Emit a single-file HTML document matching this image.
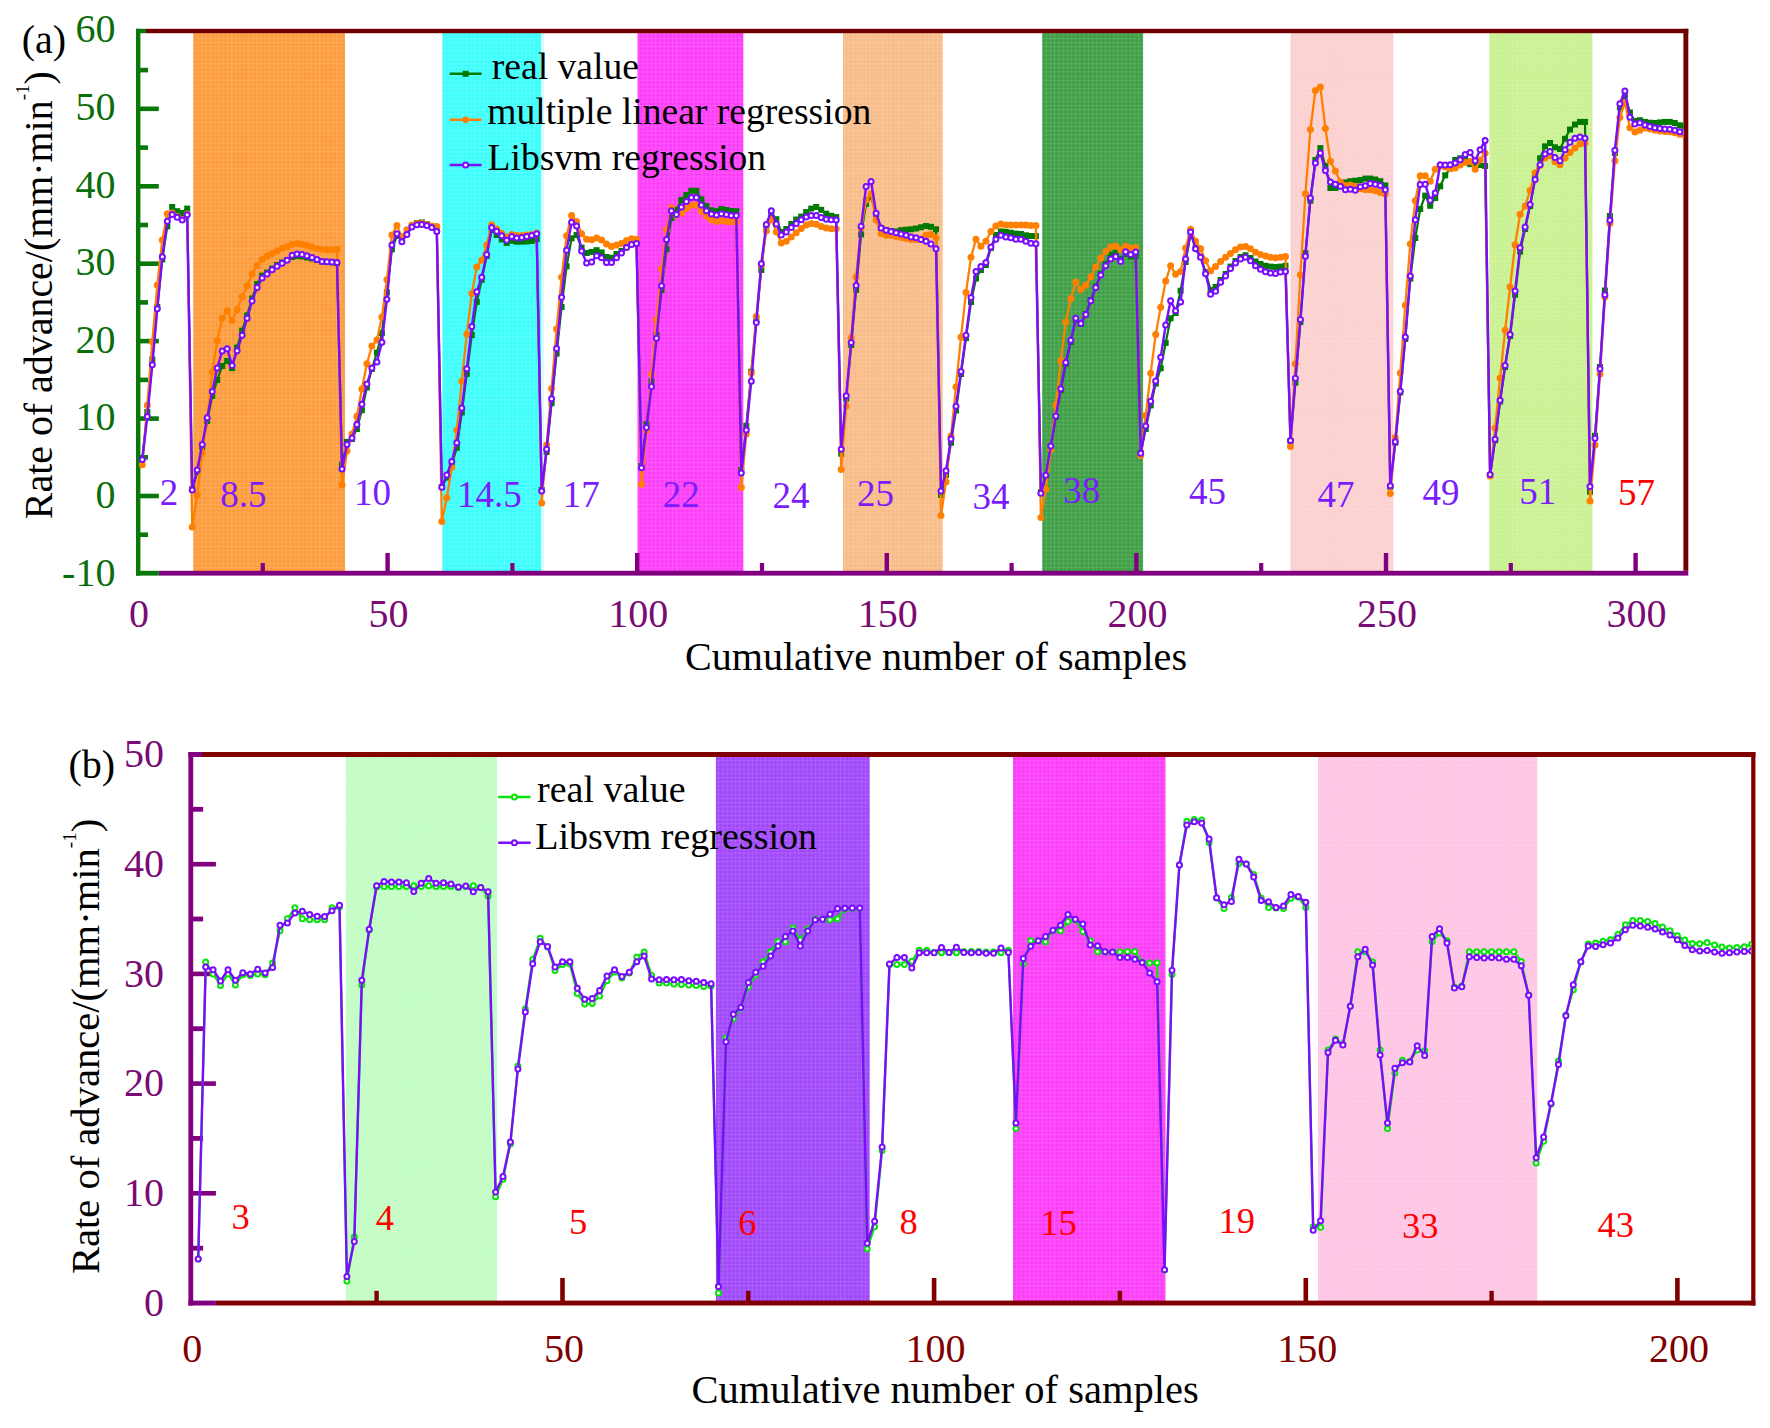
<!DOCTYPE html>
<html lang="en"><head><meta charset="utf-8"><title>Rate of advance regression</title>
<style>html,body{margin:0;padding:0;background:#fff}svg{display:block}text{font-family:"Liberation Serif",serif}</style></head><body>
<svg width="1770" height="1428" viewBox="0 0 1770 1428">
<rect x="0" y="0" width="1770" height="1428" fill="#ffffff"/>
<defs><clipPath id="clipa"><rect x="136" y="28" width="1547.4" height="548"/></clipPath><clipPath id="clipb"><rect x="188" y="752" width="1563.2" height="554"/></clipPath><pattern id="mesh" width="4.2" height="4.2" patternUnits="userSpaceOnUse"><rect width="4.2" height="1.1" fill="#fff" opacity=".11"/><rect width="1.1" height="4.2" fill="#fff" opacity=".11"/></pattern></defs>
<g id="bands-a">
<rect x="193.2" y="32" width="151.8" height="540" fill="#FC9C3D"/>
<rect x="193.2" y="32" width="151.8" height="540" fill="url(#mesh)"/>
<rect x="442.4" y="32" width="98.9" height="540" fill="#3DFEFC"/>
<rect x="442.4" y="32" width="98.9" height="540" fill="url(#mesh)"/>
<rect x="637.5" y="32" width="105.8" height="540" fill="#FC3DF8"/>
<rect x="637.5" y="32" width="105.8" height="540" fill="url(#mesh)"/>
<rect x="843" y="32" width="99.7" height="540" fill="#F8BC89"/>
<rect x="843" y="32" width="99.7" height="540" fill="url(#mesh)"/>
<rect x="1042.2" y="32" width="100.9" height="540" fill="#3F9F45"/>
<rect x="1042.2" y="32" width="100.9" height="540" fill="url(#mesh)"/>
<rect x="1290.5" y="32" width="102.7" height="540" fill="#FBD0CF"/>
<rect x="1290.5" y="32" width="102.7" height="540" fill="url(#mesh)"/>
<rect x="1489.4" y="32" width="103.0" height="540" fill="#CAF191"/>
<rect x="1489.4" y="32" width="103.0" height="540" fill="url(#mesh)"/>
<rect x="542.6" y="32" width="1" height="540" fill="#b8fbfb"/>
</g>
<g id="axes-a">
<rect x="146" y="28.8" width="1542.3" height="4.4" fill="#6E0000"/>
<rect x="1683.4" y="28.8" width="4.9" height="542" fill="#6E0000"/>
<rect x="158.8" y="570.8" width="1529.5" height="4.8" fill="#800080"/>
<rect x="260.7" y="563" width="4.2" height="9" fill="#800080"/>
<rect x="385.4" y="553" width="4.4" height="19" fill="#800080"/>
<rect x="510.3" y="563" width="4.2" height="9" fill="#800080"/>
<rect x="635" y="553" width="4.4" height="19" fill="#800080"/>
<rect x="759.9" y="563" width="4.2" height="9" fill="#800080"/>
<rect x="884.6" y="553" width="4.4" height="19" fill="#800080"/>
<rect x="1009.5" y="563" width="4.2" height="9" fill="#800080"/>
<rect x="1134.2" y="553" width="4.4" height="19" fill="#800080"/>
<rect x="1259.1" y="563" width="4.2" height="9" fill="#800080"/>
<rect x="1383.8" y="553" width="4.4" height="19" fill="#800080"/>
<rect x="1508.7" y="563" width="4.2" height="9" fill="#800080"/>
<rect x="1633.4" y="553" width="4.4" height="19" fill="#800080"/>
<rect x="136" y="28.8" width="4.4" height="546.8" fill="#087808"/>
<rect x="136" y="28.8" width="10" height="4.4" fill="#087808"/>
<rect x="136" y="570.8" width="22.8" height="4.8" fill="#087808"/>
<rect x="138" y="532.4" width="10" height="4.6" fill="#087808"/>
<rect x="138" y="493.7" width="20.8" height="4.6" fill="#087808"/>
<rect x="138" y="455" width="10" height="4.6" fill="#087808"/>
<rect x="138" y="416.3" width="20.8" height="4.6" fill="#087808"/>
<rect x="138" y="377.6" width="10" height="4.6" fill="#087808"/>
<rect x="138" y="338.8" width="20.8" height="4.6" fill="#087808"/>
<rect x="138" y="300.1" width="10" height="4.6" fill="#087808"/>
<rect x="138" y="261.4" width="20.8" height="4.6" fill="#087808"/>
<rect x="138" y="222.7" width="10" height="4.6" fill="#087808"/>
<rect x="138" y="184" width="20.8" height="4.6" fill="#087808"/>
<rect x="138" y="145.3" width="10" height="4.6" fill="#087808"/>
<rect x="138" y="106.5" width="20.8" height="4.6" fill="#087808"/>
<rect x="138" y="67.8" width="10" height="4.6" fill="#087808"/>
</g>
<g id="labels-a" font-size="40">
<text x="115.4" y="585.6" text-anchor="end" fill="#0A6E0A">-10</text>
<text x="115.4" y="508" text-anchor="end" fill="#0A6E0A">0</text>
<text x="115.4" y="430.4" text-anchor="end" fill="#0A6E0A">10</text>
<text x="115.4" y="352.8" text-anchor="end" fill="#0A6E0A">20</text>
<text x="115.4" y="275.2" text-anchor="end" fill="#0A6E0A">30</text>
<text x="115.4" y="197.6" text-anchor="end" fill="#0A6E0A">40</text>
<text x="115.4" y="120" text-anchor="end" fill="#0A6E0A">50</text>
<text x="115.4" y="42.4" text-anchor="end" fill="#0A6E0A">60</text>
<text x="139" y="626.5" text-anchor="middle" fill="#7A0A74">0</text>
<text x="388.6" y="626.5" text-anchor="middle" fill="#7A0A74">50</text>
<text x="638.2" y="626.5" text-anchor="middle" fill="#7A0A74">100</text>
<text x="887.8" y="626.5" text-anchor="middle" fill="#7A0A74">150</text>
<text x="1137.4" y="626.5" text-anchor="middle" fill="#7A0A74">200</text>
<text x="1387" y="626.5" text-anchor="middle" fill="#7A0A74">250</text>
<text x="1636.6" y="626.5" text-anchor="middle" fill="#7A0A74">300</text>
<text x="685" y="670" fill="#000" font-size="40.1">Cumulative number of samples</text>
<text x="21.7" y="52.6" fill="#000">(a)</text>
<text transform="translate(52,519.2) rotate(-90)" fill="#000" font-size="39.92">Rate of advance/(mm·min<tspan font-size="19" dy="-23">-1</tspan><tspan dy="23">)</tspan></text>
</g>
<g id="data-a" clip-path="url(#clipa)">
<polyline points="142.3,458 147.3,412 152.3,359.5 157.3,307 162.3,259.5 167.3,226.4 172.2,207 177.2,211.2 182.2,213 187.2,208.6 192.2,489 197.2,472 202.2,447 207.2,421 212.2,396 217.2,380 222.2,366 227.2,361 232.1,368 237.1,347.6 242.1,330.7 247.1,315.4 252.1,298.5 257.1,284 262.1,275.6 267.1,272.5 272.1,268.5 277.1,265 282.1,262.5 287.1,260 292.1,257 297,256 302,256.4 307,257.5 312,258.5 317,260 322,261.5 327,262 332,262.3 337,263 342,464.7 347,441.9 352,439 356.9,429 361.9,410.2 366.9,387.5 371.9,369 376.9,352.7 381.9,333 386.9,292.5 391.9,249.3 396.9,236 401.9,240 406.9,234 411.9,226 416.9,223 421.8,222.5 426.8,224 431.8,226.5 436.8,230.5 441.8,487 446.8,477.5 451.8,465 456.8,447.8 461.8,412.5 466.8,373.9 471.8,335 476.8,301.9 481.7,279.8 486.7,256 491.7,230 496.7,235 501.7,239.5 506.7,242.9 511.7,240.8 516.7,241.7 521.7,241.7 526.7,241.5 531.7,241 536.7,239.2 541.7,490 546.6,452 551.6,403.2 556.6,353.6 561.6,307 566.6,266.3 571.6,238.3 576.6,235 581.6,247.6 586.6,253 591.6,251.9 596.6,250.2 601.6,252.4 606.5,257 611.5,257.8 616.5,254 621.5,251 626.5,246.5 631.5,244 636.5,243 641.5,466 646.5,424.3 651.5,381.5 656.5,335 661.5,290 666.5,249.3 671.4,218 676.4,210 681.4,200 686.4,195 691.4,190.8 696.4,190.8 701.4,199.3 706.4,206 711.4,210.3 716.4,211.2 721.4,209 726.4,210 731.3,211 736.3,211.2 741.3,470 746.3,425.8 751.3,371.7 756.3,320 761.3,270 766.3,226 771.3,213 776.3,219.2 781.3,232 786.3,229 791.3,224 796.2,219.5 801.2,216.6 806.2,212 811.2,208.6 816.2,207 821.2,209.8 826.2,213.7 831.2,215.8 836.2,217.1 841.2,453.7 846.2,398.6 851.2,345 856.1,290 861.1,234.4 866.1,203.9 871.1,197 876.1,214 881.1,228 886.1,230 891.1,231 896.1,231.5 901.1,230.2 906.1,229.7 911.1,229.3 916.1,228.5 921,227.3 926,226 931,226.8 936,229.3 941,495 946,475 951,442.7 956,410.5 961,374 966,338 971,302 976,278.5 980.9,270 985.9,265 990.9,248 995.9,235 1000.9,231.4 1005.9,231.9 1010.9,232.7 1015.9,233.6 1020.9,234 1025.9,235.3 1030.9,236 1035.9,236.1 1040.9,492 1045.8,476 1050.8,447 1055.8,417 1060.8,390 1065.8,364 1070.8,342 1075.8,320 1080.8,324 1085.8,314 1090.8,300 1095.8,286.5 1100.8,274 1105.7,264 1110.7,255 1115.7,253 1120.7,259 1125.7,254 1130.7,256.4 1135.7,256 1140.7,453 1145.7,429 1150.7,405.4 1155.7,383.6 1160.7,368.3 1165.7,342.9 1170.6,318.3 1175.6,313 1180.6,290.7 1185.6,262 1190.6,234 1195.6,248 1200.6,256.5 1205.6,272 1210.6,290 1215.6,287 1220.6,280 1225.6,274 1230.5,266.6 1235.5,261 1240.5,257 1245.5,255.3 1250.5,258 1255.5,261.5 1260.5,264 1265.5,265.8 1270.5,266.6 1275.5,267 1280.5,266.6 1285.5,265.8 1290.5,441 1295.4,382.7 1300.4,322 1305.4,253.2 1310.4,200.7 1315.4,160 1320.4,148.1 1325.4,166 1330.4,188 1335.4,188 1340.4,186.3 1345.4,182.4 1350.4,181.2 1355.3,180.7 1360.3,180 1365.3,178.6 1370.3,178.6 1375.3,179.5 1380.3,181.2 1385.3,185.4 1390.3,486.8 1395.3,442.7 1400.3,392.5 1405.3,339 1410.3,278.6 1415.3,238 1420.2,209 1425.2,195.6 1430.2,205.8 1435.2,198 1440.2,186.3 1445.2,175.3 1450.2,168.5 1455.2,160 1460.2,158.3 1465.2,160 1470.2,164.2 1475.2,165 1480.1,165 1485.1,166 1490.1,475.4 1495.1,440.2 1500.1,401.5 1505.1,367 1510.1,336 1515.1,294.7 1520.1,251.5 1525.1,229 1530.1,206 1535.1,178 1540.1,158.3 1545,146.4 1550,143 1555,147.3 1560,149 1565,138.8 1570,129.5 1575,124.5 1580,121.9 1585,121.9 1590,491.7 1595,435.8 1600,367 1604.9,290.5 1609.9,216 1614.9,153 1619.9,107.5 1624.9,95 1629.9,112.5 1634.9,121 1639.9,120.2 1644.9,121.9 1649.9,122.7 1654.9,123 1659.9,122.4 1664.9,121.9 1669.8,121.9 1674.8,123 1679.8,125.3 1684.8,126.5" fill="none" stroke="#007A00" stroke-width="2.2" stroke-linejoin="round"/>
<g fill="#007A00">
<rect x="139.3" y="455" width="6" height="6"/>
<rect x="144.3" y="409" width="6" height="6"/>
<rect x="149.3" y="356.5" width="6" height="6"/>
<rect x="154.3" y="304" width="6" height="6"/>
<rect x="159.3" y="256.5" width="6" height="6"/>
<rect x="164.3" y="223.4" width="6" height="6"/>
<rect x="169.2" y="204" width="6" height="6"/>
<rect x="174.2" y="208.2" width="6" height="6"/>
<rect x="179.2" y="210" width="6" height="6"/>
<rect x="184.2" y="205.6" width="6" height="6"/>
<rect x="189.2" y="486" width="6" height="6"/>
<rect x="194.2" y="469" width="6" height="6"/>
<rect x="199.2" y="444" width="6" height="6"/>
<rect x="204.2" y="418" width="6" height="6"/>
<rect x="209.2" y="393" width="6" height="6"/>
<rect x="214.2" y="377" width="6" height="6"/>
<rect x="219.2" y="363" width="6" height="6"/>
<rect x="224.2" y="358" width="6" height="6"/>
<rect x="229.1" y="365" width="6" height="6"/>
<rect x="234.1" y="344.6" width="6" height="6"/>
<rect x="239.1" y="327.7" width="6" height="6"/>
<rect x="244.1" y="312.4" width="6" height="6"/>
<rect x="249.1" y="295.5" width="6" height="6"/>
<rect x="254.1" y="281" width="6" height="6"/>
<rect x="259.1" y="272.6" width="6" height="6"/>
<rect x="264.1" y="269.5" width="6" height="6"/>
<rect x="269.1" y="265.5" width="6" height="6"/>
<rect x="274.1" y="262" width="6" height="6"/>
<rect x="279.1" y="259.5" width="6" height="6"/>
<rect x="284.1" y="257" width="6" height="6"/>
<rect x="289.1" y="254" width="6" height="6"/>
<rect x="294" y="253" width="6" height="6"/>
<rect x="299" y="253.4" width="6" height="6"/>
<rect x="304" y="254.5" width="6" height="6"/>
<rect x="309" y="255.5" width="6" height="6"/>
<rect x="314" y="257" width="6" height="6"/>
<rect x="319" y="258.5" width="6" height="6"/>
<rect x="324" y="259" width="6" height="6"/>
<rect x="329" y="259.3" width="6" height="6"/>
<rect x="334" y="260" width="6" height="6"/>
<rect x="339" y="461.7" width="6" height="6"/>
<rect x="344" y="438.9" width="6" height="6"/>
<rect x="349" y="436" width="6" height="6"/>
<rect x="353.9" y="426" width="6" height="6"/>
<rect x="358.9" y="407.2" width="6" height="6"/>
<rect x="363.9" y="384.5" width="6" height="6"/>
<rect x="368.9" y="366" width="6" height="6"/>
<rect x="373.9" y="349.7" width="6" height="6"/>
<rect x="378.9" y="330" width="6" height="6"/>
<rect x="383.9" y="289.5" width="6" height="6"/>
<rect x="388.9" y="246.3" width="6" height="6"/>
<rect x="393.9" y="233" width="6" height="6"/>
<rect x="398.9" y="237" width="6" height="6"/>
<rect x="403.9" y="231" width="6" height="6"/>
<rect x="408.9" y="223" width="6" height="6"/>
<rect x="413.9" y="220" width="6" height="6"/>
<rect x="418.8" y="219.5" width="6" height="6"/>
<rect x="423.8" y="221" width="6" height="6"/>
<rect x="428.8" y="223.5" width="6" height="6"/>
<rect x="433.8" y="227.5" width="6" height="6"/>
<rect x="438.8" y="484" width="6" height="6"/>
<rect x="443.8" y="474.5" width="6" height="6"/>
<rect x="448.8" y="462" width="6" height="6"/>
<rect x="453.8" y="444.8" width="6" height="6"/>
<rect x="458.8" y="409.5" width="6" height="6"/>
<rect x="463.8" y="370.9" width="6" height="6"/>
<rect x="468.8" y="332" width="6" height="6"/>
<rect x="473.8" y="298.9" width="6" height="6"/>
<rect x="478.7" y="276.8" width="6" height="6"/>
<rect x="483.7" y="253" width="6" height="6"/>
<rect x="488.7" y="227" width="6" height="6"/>
<rect x="493.7" y="232" width="6" height="6"/>
<rect x="498.7" y="236.5" width="6" height="6"/>
<rect x="503.7" y="239.9" width="6" height="6"/>
<rect x="508.7" y="237.8" width="6" height="6"/>
<rect x="513.7" y="238.7" width="6" height="6"/>
<rect x="518.7" y="238.7" width="6" height="6"/>
<rect x="523.7" y="238.5" width="6" height="6"/>
<rect x="528.7" y="238" width="6" height="6"/>
<rect x="533.7" y="236.2" width="6" height="6"/>
<rect x="538.7" y="487" width="6" height="6"/>
<rect x="543.6" y="449" width="6" height="6"/>
<rect x="548.6" y="400.2" width="6" height="6"/>
<rect x="553.6" y="350.6" width="6" height="6"/>
<rect x="558.6" y="304" width="6" height="6"/>
<rect x="563.6" y="263.3" width="6" height="6"/>
<rect x="568.6" y="235.3" width="6" height="6"/>
<rect x="573.6" y="232" width="6" height="6"/>
<rect x="578.6" y="244.6" width="6" height="6"/>
<rect x="583.6" y="250" width="6" height="6"/>
<rect x="588.6" y="248.9" width="6" height="6"/>
<rect x="593.6" y="247.2" width="6" height="6"/>
<rect x="598.6" y="249.4" width="6" height="6"/>
<rect x="603.5" y="254" width="6" height="6"/>
<rect x="608.5" y="254.8" width="6" height="6"/>
<rect x="613.5" y="251" width="6" height="6"/>
<rect x="618.5" y="248" width="6" height="6"/>
<rect x="623.5" y="243.5" width="6" height="6"/>
<rect x="628.5" y="241" width="6" height="6"/>
<rect x="633.5" y="240" width="6" height="6"/>
<rect x="638.5" y="463" width="6" height="6"/>
<rect x="643.5" y="421.3" width="6" height="6"/>
<rect x="648.5" y="378.5" width="6" height="6"/>
<rect x="653.5" y="332" width="6" height="6"/>
<rect x="658.5" y="287" width="6" height="6"/>
<rect x="663.5" y="246.3" width="6" height="6"/>
<rect x="668.4" y="215" width="6" height="6"/>
<rect x="673.4" y="207" width="6" height="6"/>
<rect x="678.4" y="197" width="6" height="6"/>
<rect x="683.4" y="192" width="6" height="6"/>
<rect x="688.4" y="187.8" width="6" height="6"/>
<rect x="693.4" y="187.8" width="6" height="6"/>
<rect x="698.4" y="196.3" width="6" height="6"/>
<rect x="703.4" y="203" width="6" height="6"/>
<rect x="708.4" y="207.3" width="6" height="6"/>
<rect x="713.4" y="208.2" width="6" height="6"/>
<rect x="718.4" y="206" width="6" height="6"/>
<rect x="723.4" y="207" width="6" height="6"/>
<rect x="728.3" y="208" width="6" height="6"/>
<rect x="733.3" y="208.2" width="6" height="6"/>
<rect x="738.3" y="467" width="6" height="6"/>
<rect x="743.3" y="422.8" width="6" height="6"/>
<rect x="748.3" y="368.7" width="6" height="6"/>
<rect x="753.3" y="317" width="6" height="6"/>
<rect x="758.3" y="267" width="6" height="6"/>
<rect x="763.3" y="223" width="6" height="6"/>
<rect x="768.3" y="210" width="6" height="6"/>
<rect x="773.3" y="216.2" width="6" height="6"/>
<rect x="778.3" y="229" width="6" height="6"/>
<rect x="783.3" y="226" width="6" height="6"/>
<rect x="788.3" y="221" width="6" height="6"/>
<rect x="793.2" y="216.5" width="6" height="6"/>
<rect x="798.2" y="213.6" width="6" height="6"/>
<rect x="803.2" y="209" width="6" height="6"/>
<rect x="808.2" y="205.6" width="6" height="6"/>
<rect x="813.2" y="204" width="6" height="6"/>
<rect x="818.2" y="206.8" width="6" height="6"/>
<rect x="823.2" y="210.7" width="6" height="6"/>
<rect x="828.2" y="212.8" width="6" height="6"/>
<rect x="833.2" y="214.1" width="6" height="6"/>
<rect x="838.2" y="450.7" width="6" height="6"/>
<rect x="843.2" y="395.6" width="6" height="6"/>
<rect x="848.2" y="342" width="6" height="6"/>
<rect x="853.1" y="287" width="6" height="6"/>
<rect x="858.1" y="231.4" width="6" height="6"/>
<rect x="863.1" y="200.9" width="6" height="6"/>
<rect x="868.1" y="194" width="6" height="6"/>
<rect x="873.1" y="211" width="6" height="6"/>
<rect x="878.1" y="225" width="6" height="6"/>
<rect x="883.1" y="227" width="6" height="6"/>
<rect x="888.1" y="228" width="6" height="6"/>
<rect x="893.1" y="228.5" width="6" height="6"/>
<rect x="898.1" y="227.2" width="6" height="6"/>
<rect x="903.1" y="226.7" width="6" height="6"/>
<rect x="908.1" y="226.3" width="6" height="6"/>
<rect x="913.1" y="225.5" width="6" height="6"/>
<rect x="918" y="224.3" width="6" height="6"/>
<rect x="923" y="223" width="6" height="6"/>
<rect x="928" y="223.8" width="6" height="6"/>
<rect x="933" y="226.3" width="6" height="6"/>
<rect x="938" y="492" width="6" height="6"/>
<rect x="943" y="472" width="6" height="6"/>
<rect x="948" y="439.7" width="6" height="6"/>
<rect x="953" y="407.5" width="6" height="6"/>
<rect x="958" y="371" width="6" height="6"/>
<rect x="963" y="335" width="6" height="6"/>
<rect x="968" y="299" width="6" height="6"/>
<rect x="973" y="275.5" width="6" height="6"/>
<rect x="977.9" y="267" width="6" height="6"/>
<rect x="982.9" y="262" width="6" height="6"/>
<rect x="987.9" y="245" width="6" height="6"/>
<rect x="992.9" y="232" width="6" height="6"/>
<rect x="997.9" y="228.4" width="6" height="6"/>
<rect x="1002.9" y="228.9" width="6" height="6"/>
<rect x="1007.9" y="229.7" width="6" height="6"/>
<rect x="1012.9" y="230.6" width="6" height="6"/>
<rect x="1017.9" y="231" width="6" height="6"/>
<rect x="1022.9" y="232.3" width="6" height="6"/>
<rect x="1027.9" y="233" width="6" height="6"/>
<rect x="1032.9" y="233.1" width="6" height="6"/>
<rect x="1037.9" y="489" width="6" height="6"/>
<rect x="1042.8" y="473" width="6" height="6"/>
<rect x="1047.8" y="444" width="6" height="6"/>
<rect x="1052.8" y="414" width="6" height="6"/>
<rect x="1057.8" y="387" width="6" height="6"/>
<rect x="1062.8" y="361" width="6" height="6"/>
<rect x="1067.8" y="339" width="6" height="6"/>
<rect x="1072.8" y="317" width="6" height="6"/>
<rect x="1077.8" y="321" width="6" height="6"/>
<rect x="1082.8" y="311" width="6" height="6"/>
<rect x="1087.8" y="297" width="6" height="6"/>
<rect x="1092.8" y="283.5" width="6" height="6"/>
<rect x="1097.8" y="271" width="6" height="6"/>
<rect x="1102.7" y="261" width="6" height="6"/>
<rect x="1107.7" y="252" width="6" height="6"/>
<rect x="1112.7" y="250" width="6" height="6"/>
<rect x="1117.7" y="256" width="6" height="6"/>
<rect x="1122.7" y="251" width="6" height="6"/>
<rect x="1127.7" y="253.4" width="6" height="6"/>
<rect x="1132.7" y="253" width="6" height="6"/>
<rect x="1137.7" y="450" width="6" height="6"/>
<rect x="1142.7" y="426" width="6" height="6"/>
<rect x="1147.7" y="402.4" width="6" height="6"/>
<rect x="1152.7" y="380.6" width="6" height="6"/>
<rect x="1157.7" y="365.3" width="6" height="6"/>
<rect x="1162.7" y="339.9" width="6" height="6"/>
<rect x="1167.6" y="315.3" width="6" height="6"/>
<rect x="1172.6" y="310" width="6" height="6"/>
<rect x="1177.6" y="287.7" width="6" height="6"/>
<rect x="1182.6" y="259" width="6" height="6"/>
<rect x="1187.6" y="231" width="6" height="6"/>
<rect x="1192.6" y="245" width="6" height="6"/>
<rect x="1197.6" y="253.5" width="6" height="6"/>
<rect x="1202.6" y="269" width="6" height="6"/>
<rect x="1207.6" y="287" width="6" height="6"/>
<rect x="1212.6" y="284" width="6" height="6"/>
<rect x="1217.6" y="277" width="6" height="6"/>
<rect x="1222.6" y="271" width="6" height="6"/>
<rect x="1227.5" y="263.6" width="6" height="6"/>
<rect x="1232.5" y="258" width="6" height="6"/>
<rect x="1237.5" y="254" width="6" height="6"/>
<rect x="1242.5" y="252.3" width="6" height="6"/>
<rect x="1247.5" y="255" width="6" height="6"/>
<rect x="1252.5" y="258.5" width="6" height="6"/>
<rect x="1257.5" y="261" width="6" height="6"/>
<rect x="1262.5" y="262.8" width="6" height="6"/>
<rect x="1267.5" y="263.6" width="6" height="6"/>
<rect x="1272.5" y="264" width="6" height="6"/>
<rect x="1277.5" y="263.6" width="6" height="6"/>
<rect x="1282.5" y="262.8" width="6" height="6"/>
<rect x="1287.5" y="438" width="6" height="6"/>
<rect x="1292.4" y="379.7" width="6" height="6"/>
<rect x="1297.4" y="319" width="6" height="6"/>
<rect x="1302.4" y="250.2" width="6" height="6"/>
<rect x="1307.4" y="197.7" width="6" height="6"/>
<rect x="1312.4" y="157" width="6" height="6"/>
<rect x="1317.4" y="145.1" width="6" height="6"/>
<rect x="1322.4" y="163" width="6" height="6"/>
<rect x="1327.4" y="185" width="6" height="6"/>
<rect x="1332.4" y="185" width="6" height="6"/>
<rect x="1337.4" y="183.3" width="6" height="6"/>
<rect x="1342.4" y="179.4" width="6" height="6"/>
<rect x="1347.4" y="178.2" width="6" height="6"/>
<rect x="1352.3" y="177.7" width="6" height="6"/>
<rect x="1357.3" y="177" width="6" height="6"/>
<rect x="1362.3" y="175.6" width="6" height="6"/>
<rect x="1367.3" y="175.6" width="6" height="6"/>
<rect x="1372.3" y="176.5" width="6" height="6"/>
<rect x="1377.3" y="178.2" width="6" height="6"/>
<rect x="1382.3" y="182.4" width="6" height="6"/>
<rect x="1387.3" y="483.8" width="6" height="6"/>
<rect x="1392.3" y="439.7" width="6" height="6"/>
<rect x="1397.3" y="389.5" width="6" height="6"/>
<rect x="1402.3" y="336" width="6" height="6"/>
<rect x="1407.3" y="275.6" width="6" height="6"/>
<rect x="1412.3" y="235" width="6" height="6"/>
<rect x="1417.2" y="206" width="6" height="6"/>
<rect x="1422.2" y="192.6" width="6" height="6"/>
<rect x="1427.2" y="202.8" width="6" height="6"/>
<rect x="1432.2" y="195" width="6" height="6"/>
<rect x="1437.2" y="183.3" width="6" height="6"/>
<rect x="1442.2" y="172.3" width="6" height="6"/>
<rect x="1447.2" y="165.5" width="6" height="6"/>
<rect x="1452.2" y="157" width="6" height="6"/>
<rect x="1457.2" y="155.3" width="6" height="6"/>
<rect x="1462.2" y="157" width="6" height="6"/>
<rect x="1467.2" y="161.2" width="6" height="6"/>
<rect x="1472.2" y="162" width="6" height="6"/>
<rect x="1477.1" y="162" width="6" height="6"/>
<rect x="1482.1" y="163" width="6" height="6"/>
<rect x="1487.1" y="472.4" width="6" height="6"/>
<rect x="1492.1" y="437.2" width="6" height="6"/>
<rect x="1497.1" y="398.5" width="6" height="6"/>
<rect x="1502.1" y="364" width="6" height="6"/>
<rect x="1507.1" y="333" width="6" height="6"/>
<rect x="1512.1" y="291.7" width="6" height="6"/>
<rect x="1517.1" y="248.5" width="6" height="6"/>
<rect x="1522.1" y="226" width="6" height="6"/>
<rect x="1527.1" y="203" width="6" height="6"/>
<rect x="1532.1" y="175" width="6" height="6"/>
<rect x="1537.1" y="155.3" width="6" height="6"/>
<rect x="1542" y="143.4" width="6" height="6"/>
<rect x="1547" y="140" width="6" height="6"/>
<rect x="1552" y="144.3" width="6" height="6"/>
<rect x="1557" y="146" width="6" height="6"/>
<rect x="1562" y="135.8" width="6" height="6"/>
<rect x="1567" y="126.5" width="6" height="6"/>
<rect x="1572" y="121.5" width="6" height="6"/>
<rect x="1577" y="118.9" width="6" height="6"/>
<rect x="1582" y="118.9" width="6" height="6"/>
<rect x="1587" y="488.7" width="6" height="6"/>
<rect x="1592" y="432.8" width="6" height="6"/>
<rect x="1597" y="364" width="6" height="6"/>
<rect x="1601.9" y="287.5" width="6" height="6"/>
<rect x="1606.9" y="213" width="6" height="6"/>
<rect x="1611.9" y="150" width="6" height="6"/>
<rect x="1616.9" y="104.5" width="6" height="6"/>
<rect x="1621.9" y="92" width="6" height="6"/>
<rect x="1626.9" y="109.5" width="6" height="6"/>
<rect x="1631.9" y="118" width="6" height="6"/>
<rect x="1636.9" y="117.2" width="6" height="6"/>
<rect x="1641.9" y="118.9" width="6" height="6"/>
<rect x="1646.9" y="119.7" width="6" height="6"/>
<rect x="1651.9" y="120" width="6" height="6"/>
<rect x="1656.9" y="119.4" width="6" height="6"/>
<rect x="1661.9" y="118.9" width="6" height="6"/>
<rect x="1666.8" y="118.9" width="6" height="6"/>
<rect x="1671.8" y="120" width="6" height="6"/>
<rect x="1676.8" y="122.3" width="6" height="6"/>
<rect x="1681.8" y="123.5" width="6" height="6"/>
</g>
<polyline points="142.3,464.8 147.3,405.2 152.3,341.7 157.3,285 162.3,240 167.3,213.7 172.2,213 177.2,216.5 182.2,219.5 187.2,214 192.2,527 197.2,495 202.2,453.5 207.2,418 212.2,372.2 217.2,340.8 222.2,318.3 227.2,310.7 232.1,320.8 237.1,309.5 242.1,296.8 247.1,285.8 252.1,273.9 257.1,265.4 262.1,259.5 267.1,256.1 272.1,253.6 277.1,251 282.1,248.5 287.1,246.8 292.1,244.2 297,243.4 302,244.2 307,245.6 312,247.1 317,248.5 322,249.3 327,249.7 332,249.7 337,249.3 342,485 347,451 352,434 356.9,416.2 361.9,389 366.9,363.7 371.9,346 376.9,340 381.9,317 386.9,279.8 391.9,235 396.9,225.6 401.9,237 406.9,229.8 411.9,225 416.9,223.5 421.8,223.5 426.8,224.5 431.8,226 436.8,226.4 441.8,521.5 446.8,497.8 451.8,467.3 456.8,430 461.8,381.2 466.8,334 471.8,293.4 476.8,267.1 481.7,260.3 486.7,245.1 491.7,224.7 496.7,229 501.7,233.2 506.7,237 511.7,234.4 516.7,235.4 521.7,235.4 526.7,235 531.7,234.5 536.7,233 541.7,502.9 546.6,445 551.6,388.4 556.6,329 561.6,277.3 566.6,235.8 571.6,215.4 576.6,221.4 581.6,233.7 586.6,239.2 591.6,239.7 596.6,238 601.6,240 606.5,243.9 611.5,246.4 616.5,245.1 621.5,243.4 626.5,240.5 631.5,238.8 636.5,239.2 641.5,484.2 646.5,430.8 651.5,374 656.5,319.7 661.5,268.8 666.5,229.8 671.4,207.8 676.4,215.4 681.4,212.9 686.4,208.6 691.4,205.3 696.4,205 701.4,211.2 706.4,216.3 711.4,219.7 716.4,221.4 721.4,220.5 726.4,221.4 731.3,221.7 736.3,221.7 741.3,487.6 746.3,434 751.3,373 756.3,316.6 761.3,265 766.3,231 771.3,219.2 776.3,231.9 781.3,242.9 786.3,241.2 791.3,237 796.2,232.7 801.2,228.5 806.2,225.1 811.2,223.4 816.2,224.2 821.2,226.4 826.2,228.1 831.2,228.8 836.2,228.8 841.2,469.5 846.2,406 851.2,337.8 856.1,276.8 861.1,228 866.1,200 871.1,193.7 876.1,220 881.1,233.6 886.1,235.3 891.1,235.5 896.1,236.5 901.1,237.5 906.1,238.5 911.1,239.5 916.1,239.5 921,239 926,235.3 931,234.4 936,237.8 941,515.6 946,481.7 951,436 956,386.9 961,337 966,292.4 971,257.3 976,239.2 980.9,246.3 985.9,241.2 990.9,231.4 995.9,226 1000.9,223.9 1005.9,225.1 1010.9,225.1 1015.9,225.1 1020.9,225.1 1025.9,225.1 1030.9,225.4 1035.9,225.6 1040.9,517.6 1045.8,489.3 1050.8,449.5 1055.8,405 1060.8,360.7 1065.8,322 1070.8,298.8 1075.8,281.9 1080.8,289.5 1085.8,285.3 1090.8,276.8 1095.8,267 1100.8,258.1 1105.7,251.4 1110.7,247.1 1115.7,245.9 1120.7,249.7 1125.7,246.3 1130.7,248.3 1135.7,247.6 1140.7,455.4 1145.7,415.6 1150.7,373.2 1155.7,334.4 1160.7,307.3 1165.7,281 1170.6,265.8 1175.6,274.2 1180.6,271.4 1185.6,248 1190.6,229.3 1195.6,241.2 1200.6,248.8 1205.6,260.7 1210.6,270.8 1215.6,266.6 1220.6,261.5 1225.6,257.3 1230.5,253.4 1235.5,249.7 1240.5,247.1 1245.5,246.6 1250.5,248.8 1255.5,252.2 1260.5,254.4 1265.5,256.1 1270.5,257.3 1275.5,257.8 1280.5,257.3 1285.5,256.4 1290.5,446.6 1295.4,363.8 1300.4,274.8 1305.4,193.8 1310.4,129.5 1315.4,90.5 1320.4,87.1 1325.4,128.6 1330.4,161.2 1335.4,171 1340.4,182 1345.4,185.4 1350.4,185 1355.3,186.3 1360.3,188.8 1365.3,189.7 1370.3,189.7 1375.3,190.8 1380.3,192.5 1385.3,193.9 1390.3,493.4 1395.3,437.5 1400.3,373 1405.3,305.3 1410.3,243.9 1415.3,200.7 1420.2,175.8 1425.2,175.8 1430.2,181.2 1435.2,169.3 1440.2,166 1445.2,167 1450.2,168.5 1455.2,168 1460.2,165 1465.2,162.5 1470.2,161.4 1475.2,169.3 1480.1,160 1485.1,153.2 1490.1,476 1495.1,428 1500.1,378.1 1505.1,330.3 1510.1,287.1 1515.1,244.7 1520.1,214.2 1525.1,206.1 1530.1,190.5 1535.1,172.7 1540.1,165.5 1545,158 1550,155.8 1555,161.7 1560,164.7 1565,158 1570,152.4 1575,148.1 1580,143.9 1585,143 1590,501 1595,445 1600,373.9 1604.9,297 1609.9,223.6 1614.9,160.8 1619.9,117.6 1624.9,102.4 1629.9,127.8 1634.9,132 1639.9,130.3 1644.9,128 1649.9,129 1654.9,130.3 1659.9,131 1664.9,131.5 1669.8,131.7 1674.8,132.8 1679.8,134.2 1684.8,135.2" fill="none" stroke="#FF8000" stroke-width="2.3" stroke-linejoin="round"/>
<g fill="#FF8000">
<circle cx="142.3" cy="464.8" r="3.5"/>
<circle cx="147.3" cy="405.2" r="3.5"/>
<circle cx="152.3" cy="341.7" r="3.5"/>
<circle cx="157.3" cy="285" r="3.5"/>
<circle cx="162.3" cy="240" r="3.5"/>
<circle cx="167.3" cy="213.7" r="3.5"/>
<circle cx="172.2" cy="213" r="3.5"/>
<circle cx="177.2" cy="216.5" r="3.5"/>
<circle cx="182.2" cy="219.5" r="3.5"/>
<circle cx="187.2" cy="214" r="3.5"/>
<circle cx="192.2" cy="527" r="3.5"/>
<circle cx="197.2" cy="495" r="3.5"/>
<circle cx="202.2" cy="453.5" r="3.5"/>
<circle cx="207.2" cy="418" r="3.5"/>
<circle cx="212.2" cy="372.2" r="3.5"/>
<circle cx="217.2" cy="340.8" r="3.5"/>
<circle cx="222.2" cy="318.3" r="3.5"/>
<circle cx="227.2" cy="310.7" r="3.5"/>
<circle cx="232.1" cy="320.8" r="3.5"/>
<circle cx="237.1" cy="309.5" r="3.5"/>
<circle cx="242.1" cy="296.8" r="3.5"/>
<circle cx="247.1" cy="285.8" r="3.5"/>
<circle cx="252.1" cy="273.9" r="3.5"/>
<circle cx="257.1" cy="265.4" r="3.5"/>
<circle cx="262.1" cy="259.5" r="3.5"/>
<circle cx="267.1" cy="256.1" r="3.5"/>
<circle cx="272.1" cy="253.6" r="3.5"/>
<circle cx="277.1" cy="251" r="3.5"/>
<circle cx="282.1" cy="248.5" r="3.5"/>
<circle cx="287.1" cy="246.8" r="3.5"/>
<circle cx="292.1" cy="244.2" r="3.5"/>
<circle cx="297" cy="243.4" r="3.5"/>
<circle cx="302" cy="244.2" r="3.5"/>
<circle cx="307" cy="245.6" r="3.5"/>
<circle cx="312" cy="247.1" r="3.5"/>
<circle cx="317" cy="248.5" r="3.5"/>
<circle cx="322" cy="249.3" r="3.5"/>
<circle cx="327" cy="249.7" r="3.5"/>
<circle cx="332" cy="249.7" r="3.5"/>
<circle cx="337" cy="249.3" r="3.5"/>
<circle cx="342" cy="485" r="3.5"/>
<circle cx="347" cy="451" r="3.5"/>
<circle cx="352" cy="434" r="3.5"/>
<circle cx="356.9" cy="416.2" r="3.5"/>
<circle cx="361.9" cy="389" r="3.5"/>
<circle cx="366.9" cy="363.7" r="3.5"/>
<circle cx="371.9" cy="346" r="3.5"/>
<circle cx="376.9" cy="340" r="3.5"/>
<circle cx="381.9" cy="317" r="3.5"/>
<circle cx="386.9" cy="279.8" r="3.5"/>
<circle cx="391.9" cy="235" r="3.5"/>
<circle cx="396.9" cy="225.6" r="3.5"/>
<circle cx="401.9" cy="237" r="3.5"/>
<circle cx="406.9" cy="229.8" r="3.5"/>
<circle cx="411.9" cy="225" r="3.5"/>
<circle cx="416.9" cy="223.5" r="3.5"/>
<circle cx="421.8" cy="223.5" r="3.5"/>
<circle cx="426.8" cy="224.5" r="3.5"/>
<circle cx="431.8" cy="226" r="3.5"/>
<circle cx="436.8" cy="226.4" r="3.5"/>
<circle cx="441.8" cy="521.5" r="3.5"/>
<circle cx="446.8" cy="497.8" r="3.5"/>
<circle cx="451.8" cy="467.3" r="3.5"/>
<circle cx="456.8" cy="430" r="3.5"/>
<circle cx="461.8" cy="381.2" r="3.5"/>
<circle cx="466.8" cy="334" r="3.5"/>
<circle cx="471.8" cy="293.4" r="3.5"/>
<circle cx="476.8" cy="267.1" r="3.5"/>
<circle cx="481.7" cy="260.3" r="3.5"/>
<circle cx="486.7" cy="245.1" r="3.5"/>
<circle cx="491.7" cy="224.7" r="3.5"/>
<circle cx="496.7" cy="229" r="3.5"/>
<circle cx="501.7" cy="233.2" r="3.5"/>
<circle cx="506.7" cy="237" r="3.5"/>
<circle cx="511.7" cy="234.4" r="3.5"/>
<circle cx="516.7" cy="235.4" r="3.5"/>
<circle cx="521.7" cy="235.4" r="3.5"/>
<circle cx="526.7" cy="235" r="3.5"/>
<circle cx="531.7" cy="234.5" r="3.5"/>
<circle cx="536.7" cy="233" r="3.5"/>
<circle cx="541.7" cy="502.9" r="3.5"/>
<circle cx="546.6" cy="445" r="3.5"/>
<circle cx="551.6" cy="388.4" r="3.5"/>
<circle cx="556.6" cy="329" r="3.5"/>
<circle cx="561.6" cy="277.3" r="3.5"/>
<circle cx="566.6" cy="235.8" r="3.5"/>
<circle cx="571.6" cy="215.4" r="3.5"/>
<circle cx="576.6" cy="221.4" r="3.5"/>
<circle cx="581.6" cy="233.7" r="3.5"/>
<circle cx="586.6" cy="239.2" r="3.5"/>
<circle cx="591.6" cy="239.7" r="3.5"/>
<circle cx="596.6" cy="238" r="3.5"/>
<circle cx="601.6" cy="240" r="3.5"/>
<circle cx="606.5" cy="243.9" r="3.5"/>
<circle cx="611.5" cy="246.4" r="3.5"/>
<circle cx="616.5" cy="245.1" r="3.5"/>
<circle cx="621.5" cy="243.4" r="3.5"/>
<circle cx="626.5" cy="240.5" r="3.5"/>
<circle cx="631.5" cy="238.8" r="3.5"/>
<circle cx="636.5" cy="239.2" r="3.5"/>
<circle cx="641.5" cy="484.2" r="3.5"/>
<circle cx="646.5" cy="430.8" r="3.5"/>
<circle cx="651.5" cy="374" r="3.5"/>
<circle cx="656.5" cy="319.7" r="3.5"/>
<circle cx="661.5" cy="268.8" r="3.5"/>
<circle cx="666.5" cy="229.8" r="3.5"/>
<circle cx="671.4" cy="207.8" r="3.5"/>
<circle cx="676.4" cy="215.4" r="3.5"/>
<circle cx="681.4" cy="212.9" r="3.5"/>
<circle cx="686.4" cy="208.6" r="3.5"/>
<circle cx="691.4" cy="205.3" r="3.5"/>
<circle cx="696.4" cy="205" r="3.5"/>
<circle cx="701.4" cy="211.2" r="3.5"/>
<circle cx="706.4" cy="216.3" r="3.5"/>
<circle cx="711.4" cy="219.7" r="3.5"/>
<circle cx="716.4" cy="221.4" r="3.5"/>
<circle cx="721.4" cy="220.5" r="3.5"/>
<circle cx="726.4" cy="221.4" r="3.5"/>
<circle cx="731.3" cy="221.7" r="3.5"/>
<circle cx="736.3" cy="221.7" r="3.5"/>
<circle cx="741.3" cy="487.6" r="3.5"/>
<circle cx="746.3" cy="434" r="3.5"/>
<circle cx="751.3" cy="373" r="3.5"/>
<circle cx="756.3" cy="316.6" r="3.5"/>
<circle cx="761.3" cy="265" r="3.5"/>
<circle cx="766.3" cy="231" r="3.5"/>
<circle cx="771.3" cy="219.2" r="3.5"/>
<circle cx="776.3" cy="231.9" r="3.5"/>
<circle cx="781.3" cy="242.9" r="3.5"/>
<circle cx="786.3" cy="241.2" r="3.5"/>
<circle cx="791.3" cy="237" r="3.5"/>
<circle cx="796.2" cy="232.7" r="3.5"/>
<circle cx="801.2" cy="228.5" r="3.5"/>
<circle cx="806.2" cy="225.1" r="3.5"/>
<circle cx="811.2" cy="223.4" r="3.5"/>
<circle cx="816.2" cy="224.2" r="3.5"/>
<circle cx="821.2" cy="226.4" r="3.5"/>
<circle cx="826.2" cy="228.1" r="3.5"/>
<circle cx="831.2" cy="228.8" r="3.5"/>
<circle cx="836.2" cy="228.8" r="3.5"/>
<circle cx="841.2" cy="469.5" r="3.5"/>
<circle cx="846.2" cy="406" r="3.5"/>
<circle cx="851.2" cy="337.8" r="3.5"/>
<circle cx="856.1" cy="276.8" r="3.5"/>
<circle cx="861.1" cy="228" r="3.5"/>
<circle cx="866.1" cy="200" r="3.5"/>
<circle cx="871.1" cy="193.7" r="3.5"/>
<circle cx="876.1" cy="220" r="3.5"/>
<circle cx="881.1" cy="233.6" r="3.5"/>
<circle cx="886.1" cy="235.3" r="3.5"/>
<circle cx="891.1" cy="235.5" r="3.5"/>
<circle cx="896.1" cy="236.5" r="3.5"/>
<circle cx="901.1" cy="237.5" r="3.5"/>
<circle cx="906.1" cy="238.5" r="3.5"/>
<circle cx="911.1" cy="239.5" r="3.5"/>
<circle cx="916.1" cy="239.5" r="3.5"/>
<circle cx="921" cy="239" r="3.5"/>
<circle cx="926" cy="235.3" r="3.5"/>
<circle cx="931" cy="234.4" r="3.5"/>
<circle cx="936" cy="237.8" r="3.5"/>
<circle cx="941" cy="515.6" r="3.5"/>
<circle cx="946" cy="481.7" r="3.5"/>
<circle cx="951" cy="436" r="3.5"/>
<circle cx="956" cy="386.9" r="3.5"/>
<circle cx="961" cy="337" r="3.5"/>
<circle cx="966" cy="292.4" r="3.5"/>
<circle cx="971" cy="257.3" r="3.5"/>
<circle cx="976" cy="239.2" r="3.5"/>
<circle cx="980.9" cy="246.3" r="3.5"/>
<circle cx="985.9" cy="241.2" r="3.5"/>
<circle cx="990.9" cy="231.4" r="3.5"/>
<circle cx="995.9" cy="226" r="3.5"/>
<circle cx="1000.9" cy="223.9" r="3.5"/>
<circle cx="1005.9" cy="225.1" r="3.5"/>
<circle cx="1010.9" cy="225.1" r="3.5"/>
<circle cx="1015.9" cy="225.1" r="3.5"/>
<circle cx="1020.9" cy="225.1" r="3.5"/>
<circle cx="1025.9" cy="225.1" r="3.5"/>
<circle cx="1030.9" cy="225.4" r="3.5"/>
<circle cx="1035.9" cy="225.6" r="3.5"/>
<circle cx="1040.9" cy="517.6" r="3.5"/>
<circle cx="1045.8" cy="489.3" r="3.5"/>
<circle cx="1050.8" cy="449.5" r="3.5"/>
<circle cx="1055.8" cy="405" r="3.5"/>
<circle cx="1060.8" cy="360.7" r="3.5"/>
<circle cx="1065.8" cy="322" r="3.5"/>
<circle cx="1070.8" cy="298.8" r="3.5"/>
<circle cx="1075.8" cy="281.9" r="3.5"/>
<circle cx="1080.8" cy="289.5" r="3.5"/>
<circle cx="1085.8" cy="285.3" r="3.5"/>
<circle cx="1090.8" cy="276.8" r="3.5"/>
<circle cx="1095.8" cy="267" r="3.5"/>
<circle cx="1100.8" cy="258.1" r="3.5"/>
<circle cx="1105.7" cy="251.4" r="3.5"/>
<circle cx="1110.7" cy="247.1" r="3.5"/>
<circle cx="1115.7" cy="245.9" r="3.5"/>
<circle cx="1120.7" cy="249.7" r="3.5"/>
<circle cx="1125.7" cy="246.3" r="3.5"/>
<circle cx="1130.7" cy="248.3" r="3.5"/>
<circle cx="1135.7" cy="247.6" r="3.5"/>
<circle cx="1140.7" cy="455.4" r="3.5"/>
<circle cx="1145.7" cy="415.6" r="3.5"/>
<circle cx="1150.7" cy="373.2" r="3.5"/>
<circle cx="1155.7" cy="334.4" r="3.5"/>
<circle cx="1160.7" cy="307.3" r="3.5"/>
<circle cx="1165.7" cy="281" r="3.5"/>
<circle cx="1170.6" cy="265.8" r="3.5"/>
<circle cx="1175.6" cy="274.2" r="3.5"/>
<circle cx="1180.6" cy="271.4" r="3.5"/>
<circle cx="1185.6" cy="248" r="3.5"/>
<circle cx="1190.6" cy="229.3" r="3.5"/>
<circle cx="1195.6" cy="241.2" r="3.5"/>
<circle cx="1200.6" cy="248.8" r="3.5"/>
<circle cx="1205.6" cy="260.7" r="3.5"/>
<circle cx="1210.6" cy="270.8" r="3.5"/>
<circle cx="1215.6" cy="266.6" r="3.5"/>
<circle cx="1220.6" cy="261.5" r="3.5"/>
<circle cx="1225.6" cy="257.3" r="3.5"/>
<circle cx="1230.5" cy="253.4" r="3.5"/>
<circle cx="1235.5" cy="249.7" r="3.5"/>
<circle cx="1240.5" cy="247.1" r="3.5"/>
<circle cx="1245.5" cy="246.6" r="3.5"/>
<circle cx="1250.5" cy="248.8" r="3.5"/>
<circle cx="1255.5" cy="252.2" r="3.5"/>
<circle cx="1260.5" cy="254.4" r="3.5"/>
<circle cx="1265.5" cy="256.1" r="3.5"/>
<circle cx="1270.5" cy="257.3" r="3.5"/>
<circle cx="1275.5" cy="257.8" r="3.5"/>
<circle cx="1280.5" cy="257.3" r="3.5"/>
<circle cx="1285.5" cy="256.4" r="3.5"/>
<circle cx="1290.5" cy="446.6" r="3.5"/>
<circle cx="1295.4" cy="363.8" r="3.5"/>
<circle cx="1300.4" cy="274.8" r="3.5"/>
<circle cx="1305.4" cy="193.8" r="3.5"/>
<circle cx="1310.4" cy="129.5" r="3.5"/>
<circle cx="1315.4" cy="90.5" r="3.5"/>
<circle cx="1320.4" cy="87.1" r="3.5"/>
<circle cx="1325.4" cy="128.6" r="3.5"/>
<circle cx="1330.4" cy="161.2" r="3.5"/>
<circle cx="1335.4" cy="171" r="3.5"/>
<circle cx="1340.4" cy="182" r="3.5"/>
<circle cx="1345.4" cy="185.4" r="3.5"/>
<circle cx="1350.4" cy="185" r="3.5"/>
<circle cx="1355.3" cy="186.3" r="3.5"/>
<circle cx="1360.3" cy="188.8" r="3.5"/>
<circle cx="1365.3" cy="189.7" r="3.5"/>
<circle cx="1370.3" cy="189.7" r="3.5"/>
<circle cx="1375.3" cy="190.8" r="3.5"/>
<circle cx="1380.3" cy="192.5" r="3.5"/>
<circle cx="1385.3" cy="193.9" r="3.5"/>
<circle cx="1390.3" cy="493.4" r="3.5"/>
<circle cx="1395.3" cy="437.5" r="3.5"/>
<circle cx="1400.3" cy="373" r="3.5"/>
<circle cx="1405.3" cy="305.3" r="3.5"/>
<circle cx="1410.3" cy="243.9" r="3.5"/>
<circle cx="1415.3" cy="200.7" r="3.5"/>
<circle cx="1420.2" cy="175.8" r="3.5"/>
<circle cx="1425.2" cy="175.8" r="3.5"/>
<circle cx="1430.2" cy="181.2" r="3.5"/>
<circle cx="1435.2" cy="169.3" r="3.5"/>
<circle cx="1440.2" cy="166" r="3.5"/>
<circle cx="1445.2" cy="167" r="3.5"/>
<circle cx="1450.2" cy="168.5" r="3.5"/>
<circle cx="1455.2" cy="168" r="3.5"/>
<circle cx="1460.2" cy="165" r="3.5"/>
<circle cx="1465.2" cy="162.5" r="3.5"/>
<circle cx="1470.2" cy="161.4" r="3.5"/>
<circle cx="1475.2" cy="169.3" r="3.5"/>
<circle cx="1480.1" cy="160" r="3.5"/>
<circle cx="1485.1" cy="153.2" r="3.5"/>
<circle cx="1490.1" cy="476" r="3.5"/>
<circle cx="1495.1" cy="428" r="3.5"/>
<circle cx="1500.1" cy="378.1" r="3.5"/>
<circle cx="1505.1" cy="330.3" r="3.5"/>
<circle cx="1510.1" cy="287.1" r="3.5"/>
<circle cx="1515.1" cy="244.7" r="3.5"/>
<circle cx="1520.1" cy="214.2" r="3.5"/>
<circle cx="1525.1" cy="206.1" r="3.5"/>
<circle cx="1530.1" cy="190.5" r="3.5"/>
<circle cx="1535.1" cy="172.7" r="3.5"/>
<circle cx="1540.1" cy="165.5" r="3.5"/>
<circle cx="1545" cy="158" r="3.5"/>
<circle cx="1550" cy="155.8" r="3.5"/>
<circle cx="1555" cy="161.7" r="3.5"/>
<circle cx="1560" cy="164.7" r="3.5"/>
<circle cx="1565" cy="158" r="3.5"/>
<circle cx="1570" cy="152.4" r="3.5"/>
<circle cx="1575" cy="148.1" r="3.5"/>
<circle cx="1580" cy="143.9" r="3.5"/>
<circle cx="1585" cy="143" r="3.5"/>
<circle cx="1590" cy="501" r="3.5"/>
<circle cx="1595" cy="445" r="3.5"/>
<circle cx="1600" cy="373.9" r="3.5"/>
<circle cx="1604.9" cy="297" r="3.5"/>
<circle cx="1609.9" cy="223.6" r="3.5"/>
<circle cx="1614.9" cy="160.8" r="3.5"/>
<circle cx="1619.9" cy="117.6" r="3.5"/>
<circle cx="1624.9" cy="102.4" r="3.5"/>
<circle cx="1629.9" cy="127.8" r="3.5"/>
<circle cx="1634.9" cy="132" r="3.5"/>
<circle cx="1639.9" cy="130.3" r="3.5"/>
<circle cx="1644.9" cy="128" r="3.5"/>
<circle cx="1649.9" cy="129" r="3.5"/>
<circle cx="1654.9" cy="130.3" r="3.5"/>
<circle cx="1659.9" cy="131" r="3.5"/>
<circle cx="1664.9" cy="131.5" r="3.5"/>
<circle cx="1669.8" cy="131.7" r="3.5"/>
<circle cx="1674.8" cy="132.8" r="3.5"/>
<circle cx="1679.8" cy="134.2" r="3.5"/>
<circle cx="1684.8" cy="135.2" r="3.5"/>
</g>
<polyline points="142.3,459.6 147.3,416.5 152.3,364.8 157.3,308.8 162.3,256.8 167.3,221.2 172.2,214.4 177.2,217.2 182.2,220 187.2,214.8 192.2,490 197.2,470 202.2,444.6 207.2,417.8 212.2,391.4 217.2,368 222.2,351 227.2,348.8 232.1,365.4 237.1,350.7 242.1,335.3 247.1,318.3 252.1,301 257.1,287.5 262.1,278.1 267.1,273.9 272.1,269.7 277.1,266.3 282.1,263.2 287.1,260.3 292.1,255.3 297,254 302,254.4 307,255.8 312,257.5 317,259.5 322,261.5 327,261.7 332,262 337,262.5 342,469 347,444.4 352,438 356.9,424.5 361.9,404.2 366.9,384 371.9,368 376.9,362 381.9,342.2 386.9,299.3 391.9,245 396.9,233.7 401.9,241.7 406.9,234.4 411.9,227 416.9,224.7 421.8,224.4 426.8,225.6 431.8,227.6 436.8,231.5 441.8,487.3 446.8,474.9 451.8,461.4 456.8,442.7 461.8,408 466.8,368.8 471.8,326.4 476.8,291.7 481.7,277.3 486.7,254.4 491.7,227.6 496.7,231.2 501.7,235.8 506.7,240.3 511.7,236.6 516.7,238 521.7,237.5 526.7,236.6 531.7,235.4 536.7,233.7 541.7,491 546.6,449.2 551.6,398.7 556.6,348.5 561.6,297.3 566.6,250.2 571.6,222.2 576.6,226.1 581.6,251 586.6,262.9 591.6,262 596.6,255.8 601.6,257.8 606.5,262.5 611.5,262.5 616.5,257.8 621.5,253 626.5,247.6 631.5,244.6 636.5,243.4 641.5,467.8 646.5,427.6 651.5,386.5 656.5,338.3 661.5,285.8 666.5,239.5 671.4,210.7 676.4,214.6 681.4,207 686.4,201.5 691.4,197.6 696.4,197.6 701.4,205 706.4,210.7 711.4,214 716.4,215 721.4,213.7 726.4,214.6 731.3,215.4 736.3,215.4 741.3,472.9 746.3,430 751.3,381.2 756.3,322.5 761.3,263.7 766.3,224.6 771.3,210.7 776.3,223.9 781.3,234.9 786.3,231.9 791.3,227.6 796.2,223.4 801.2,219.7 806.2,217.1 811.2,215.4 816.2,215.4 821.2,217.5 826.2,219.2 831.2,219.7 836.2,220 841.2,449.2 846.2,395.8 851.2,342.5 856.1,285.6 861.1,226.3 866.1,186.6 871.1,181.5 876.1,213.2 881.1,228 886.1,230.2 891.1,231.4 896.1,232.7 901.1,234 906.1,235.3 911.1,237 916.1,237.8 921,239.5 926,241.2 931,244 936,248.8 941,491 946,470.7 951,439 956,406.2 961,371.4 966,335.3 971,297.5 976,271.4 980.9,266.6 985.9,262.4 990.9,247.1 995.9,239.2 1000.9,235.3 1005.9,237 1010.9,237.8 1015.9,239.2 1020.9,239.2 1025.9,241.2 1030.9,243.2 1035.9,243.7 1040.9,493.2 1045.8,475.3 1050.8,446.1 1055.8,416.1 1060.8,388.7 1065.8,362.4 1070.8,340.3 1075.8,318.3 1080.8,323.4 1085.8,314.4 1090.8,300.8 1095.8,287.5 1100.8,275.1 1105.7,265.8 1110.7,259 1115.7,256.4 1120.7,261.5 1125.7,251.7 1130.7,254.4 1135.7,251.9 1140.7,453.2 1145.7,426.1 1150.7,401.3 1155.7,381 1160.7,357.3 1165.7,325 1170.6,300.8 1175.6,310.7 1180.6,301.9 1185.6,259 1190.6,231.9 1195.6,248.8 1200.6,257.3 1205.6,273.7 1210.6,294.2 1215.6,291.2 1220.6,282.2 1225.6,275.9 1230.5,268.6 1235.5,262.9 1240.5,259 1245.5,257.3 1250.5,260.7 1255.5,265.8 1260.5,269.2 1265.5,271.7 1270.5,273.1 1275.5,273.4 1280.5,272 1285.5,271.4 1290.5,440.6 1295.4,378.3 1300.4,319.4 1305.4,256.2 1310.4,198 1315.4,163 1320.4,152.9 1325.4,170.5 1330.4,182 1335.4,184.2 1340.4,186.3 1345.4,189.7 1350.4,189.3 1355.3,190.2 1360.3,186.8 1365.3,185.8 1370.3,183.4 1375.3,184.2 1380.3,185.4 1385.3,189.7 1390.3,485.8 1395.3,441.7 1400.3,391.2 1405.3,337 1410.3,276.1 1415.3,219.7 1420.2,184.6 1425.2,184.2 1430.2,200.3 1435.2,193 1440.2,164.7 1445.2,165.1 1450.2,164.7 1455.2,163 1460.2,159.7 1465.2,154.6 1470.2,152.4 1475.2,160.8 1480.1,149.8 1485.1,140.5 1490.1,474.4 1495.1,439.2 1500.1,400.2 1505.1,365.4 1510.1,334.4 1515.1,291 1520.1,247.8 1525.1,227 1530.1,204.6 1535.1,179.5 1540.1,164.7 1545,154 1550,151.5 1555,157.5 1560,160.8 1565,149.8 1570,142.2 1575,138.2 1580,137.1 1585,138.3 1590,486.6 1595,438.3 1600,368.8 1604.9,294.8 1609.9,220.2 1614.9,150.2 1619.9,103.7 1624.9,91 1629.9,117.3 1634.9,124.1 1639.9,122.7 1644.9,124.9 1649.9,126.4 1654.9,127.8 1659.9,128.6 1664.9,129 1669.8,129.2 1674.8,130.3 1679.8,131.7 1684.8,132.6" fill="none" stroke="#7A0CFF" stroke-width="2.4" stroke-linejoin="round"/>
<g fill="#ffffff" stroke="#7A0CFF" stroke-width="2.0">
<circle cx="142.3" cy="459.6" r="2.5"/>
<circle cx="147.3" cy="416.5" r="2.5"/>
<circle cx="152.3" cy="364.8" r="2.5"/>
<circle cx="157.3" cy="308.8" r="2.5"/>
<circle cx="162.3" cy="256.8" r="2.5"/>
<circle cx="167.3" cy="221.2" r="2.5"/>
<circle cx="172.2" cy="214.4" r="2.5"/>
<circle cx="177.2" cy="217.2" r="2.5"/>
<circle cx="182.2" cy="220" r="2.5"/>
<circle cx="187.2" cy="214.8" r="2.5"/>
<circle cx="192.2" cy="490" r="2.5"/>
<circle cx="197.2" cy="470" r="2.5"/>
<circle cx="202.2" cy="444.6" r="2.5"/>
<circle cx="207.2" cy="417.8" r="2.5"/>
<circle cx="212.2" cy="391.4" r="2.5"/>
<circle cx="217.2" cy="368" r="2.5"/>
<circle cx="222.2" cy="351" r="2.5"/>
<circle cx="227.2" cy="348.8" r="2.5"/>
<circle cx="232.1" cy="365.4" r="2.5"/>
<circle cx="237.1" cy="350.7" r="2.5"/>
<circle cx="242.1" cy="335.3" r="2.5"/>
<circle cx="247.1" cy="318.3" r="2.5"/>
<circle cx="252.1" cy="301" r="2.5"/>
<circle cx="257.1" cy="287.5" r="2.5"/>
<circle cx="262.1" cy="278.1" r="2.5"/>
<circle cx="267.1" cy="273.9" r="2.5"/>
<circle cx="272.1" cy="269.7" r="2.5"/>
<circle cx="277.1" cy="266.3" r="2.5"/>
<circle cx="282.1" cy="263.2" r="2.5"/>
<circle cx="287.1" cy="260.3" r="2.5"/>
<circle cx="292.1" cy="255.3" r="2.5"/>
<circle cx="297" cy="254" r="2.5"/>
<circle cx="302" cy="254.4" r="2.5"/>
<circle cx="307" cy="255.8" r="2.5"/>
<circle cx="312" cy="257.5" r="2.5"/>
<circle cx="317" cy="259.5" r="2.5"/>
<circle cx="322" cy="261.5" r="2.5"/>
<circle cx="327" cy="261.7" r="2.5"/>
<circle cx="332" cy="262" r="2.5"/>
<circle cx="337" cy="262.5" r="2.5"/>
<circle cx="342" cy="469" r="2.5"/>
<circle cx="347" cy="444.4" r="2.5"/>
<circle cx="352" cy="438" r="2.5"/>
<circle cx="356.9" cy="424.5" r="2.5"/>
<circle cx="361.9" cy="404.2" r="2.5"/>
<circle cx="366.9" cy="384" r="2.5"/>
<circle cx="371.9" cy="368" r="2.5"/>
<circle cx="376.9" cy="362" r="2.5"/>
<circle cx="381.9" cy="342.2" r="2.5"/>
<circle cx="386.9" cy="299.3" r="2.5"/>
<circle cx="391.9" cy="245" r="2.5"/>
<circle cx="396.9" cy="233.7" r="2.5"/>
<circle cx="401.9" cy="241.7" r="2.5"/>
<circle cx="406.9" cy="234.4" r="2.5"/>
<circle cx="411.9" cy="227" r="2.5"/>
<circle cx="416.9" cy="224.7" r="2.5"/>
<circle cx="421.8" cy="224.4" r="2.5"/>
<circle cx="426.8" cy="225.6" r="2.5"/>
<circle cx="431.8" cy="227.6" r="2.5"/>
<circle cx="436.8" cy="231.5" r="2.5"/>
<circle cx="441.8" cy="487.3" r="2.5"/>
<circle cx="446.8" cy="474.9" r="2.5"/>
<circle cx="451.8" cy="461.4" r="2.5"/>
<circle cx="456.8" cy="442.7" r="2.5"/>
<circle cx="461.8" cy="408" r="2.5"/>
<circle cx="466.8" cy="368.8" r="2.5"/>
<circle cx="471.8" cy="326.4" r="2.5"/>
<circle cx="476.8" cy="291.7" r="2.5"/>
<circle cx="481.7" cy="277.3" r="2.5"/>
<circle cx="486.7" cy="254.4" r="2.5"/>
<circle cx="491.7" cy="227.6" r="2.5"/>
<circle cx="496.7" cy="231.2" r="2.5"/>
<circle cx="501.7" cy="235.8" r="2.5"/>
<circle cx="506.7" cy="240.3" r="2.5"/>
<circle cx="511.7" cy="236.6" r="2.5"/>
<circle cx="516.7" cy="238" r="2.5"/>
<circle cx="521.7" cy="237.5" r="2.5"/>
<circle cx="526.7" cy="236.6" r="2.5"/>
<circle cx="531.7" cy="235.4" r="2.5"/>
<circle cx="536.7" cy="233.7" r="2.5"/>
<circle cx="541.7" cy="491" r="2.5"/>
<circle cx="546.6" cy="449.2" r="2.5"/>
<circle cx="551.6" cy="398.7" r="2.5"/>
<circle cx="556.6" cy="348.5" r="2.5"/>
<circle cx="561.6" cy="297.3" r="2.5"/>
<circle cx="566.6" cy="250.2" r="2.5"/>
<circle cx="571.6" cy="222.2" r="2.5"/>
<circle cx="576.6" cy="226.1" r="2.5"/>
<circle cx="581.6" cy="251" r="2.5"/>
<circle cx="586.6" cy="262.9" r="2.5"/>
<circle cx="591.6" cy="262" r="2.5"/>
<circle cx="596.6" cy="255.8" r="2.5"/>
<circle cx="601.6" cy="257.8" r="2.5"/>
<circle cx="606.5" cy="262.5" r="2.5"/>
<circle cx="611.5" cy="262.5" r="2.5"/>
<circle cx="616.5" cy="257.8" r="2.5"/>
<circle cx="621.5" cy="253" r="2.5"/>
<circle cx="626.5" cy="247.6" r="2.5"/>
<circle cx="631.5" cy="244.6" r="2.5"/>
<circle cx="636.5" cy="243.4" r="2.5"/>
<circle cx="641.5" cy="467.8" r="2.5"/>
<circle cx="646.5" cy="427.6" r="2.5"/>
<circle cx="651.5" cy="386.5" r="2.5"/>
<circle cx="656.5" cy="338.3" r="2.5"/>
<circle cx="661.5" cy="285.8" r="2.5"/>
<circle cx="666.5" cy="239.5" r="2.5"/>
<circle cx="671.4" cy="210.7" r="2.5"/>
<circle cx="676.4" cy="214.6" r="2.5"/>
<circle cx="681.4" cy="207" r="2.5"/>
<circle cx="686.4" cy="201.5" r="2.5"/>
<circle cx="691.4" cy="197.6" r="2.5"/>
<circle cx="696.4" cy="197.6" r="2.5"/>
<circle cx="701.4" cy="205" r="2.5"/>
<circle cx="706.4" cy="210.7" r="2.5"/>
<circle cx="711.4" cy="214" r="2.5"/>
<circle cx="716.4" cy="215" r="2.5"/>
<circle cx="721.4" cy="213.7" r="2.5"/>
<circle cx="726.4" cy="214.6" r="2.5"/>
<circle cx="731.3" cy="215.4" r="2.5"/>
<circle cx="736.3" cy="215.4" r="2.5"/>
<circle cx="741.3" cy="472.9" r="2.5"/>
<circle cx="746.3" cy="430" r="2.5"/>
<circle cx="751.3" cy="381.2" r="2.5"/>
<circle cx="756.3" cy="322.5" r="2.5"/>
<circle cx="761.3" cy="263.7" r="2.5"/>
<circle cx="766.3" cy="224.6" r="2.5"/>
<circle cx="771.3" cy="210.7" r="2.5"/>
<circle cx="776.3" cy="223.9" r="2.5"/>
<circle cx="781.3" cy="234.9" r="2.5"/>
<circle cx="786.3" cy="231.9" r="2.5"/>
<circle cx="791.3" cy="227.6" r="2.5"/>
<circle cx="796.2" cy="223.4" r="2.5"/>
<circle cx="801.2" cy="219.7" r="2.5"/>
<circle cx="806.2" cy="217.1" r="2.5"/>
<circle cx="811.2" cy="215.4" r="2.5"/>
<circle cx="816.2" cy="215.4" r="2.5"/>
<circle cx="821.2" cy="217.5" r="2.5"/>
<circle cx="826.2" cy="219.2" r="2.5"/>
<circle cx="831.2" cy="219.7" r="2.5"/>
<circle cx="836.2" cy="220" r="2.5"/>
<circle cx="841.2" cy="449.2" r="2.5"/>
<circle cx="846.2" cy="395.8" r="2.5"/>
<circle cx="851.2" cy="342.5" r="2.5"/>
<circle cx="856.1" cy="285.6" r="2.5"/>
<circle cx="861.1" cy="226.3" r="2.5"/>
<circle cx="866.1" cy="186.6" r="2.5"/>
<circle cx="871.1" cy="181.5" r="2.5"/>
<circle cx="876.1" cy="213.2" r="2.5"/>
<circle cx="881.1" cy="228" r="2.5"/>
<circle cx="886.1" cy="230.2" r="2.5"/>
<circle cx="891.1" cy="231.4" r="2.5"/>
<circle cx="896.1" cy="232.7" r="2.5"/>
<circle cx="901.1" cy="234" r="2.5"/>
<circle cx="906.1" cy="235.3" r="2.5"/>
<circle cx="911.1" cy="237" r="2.5"/>
<circle cx="916.1" cy="237.8" r="2.5"/>
<circle cx="921" cy="239.5" r="2.5"/>
<circle cx="926" cy="241.2" r="2.5"/>
<circle cx="931" cy="244" r="2.5"/>
<circle cx="936" cy="248.8" r="2.5"/>
<circle cx="941" cy="491" r="2.5"/>
<circle cx="946" cy="470.7" r="2.5"/>
<circle cx="951" cy="439" r="2.5"/>
<circle cx="956" cy="406.2" r="2.5"/>
<circle cx="961" cy="371.4" r="2.5"/>
<circle cx="966" cy="335.3" r="2.5"/>
<circle cx="971" cy="297.5" r="2.5"/>
<circle cx="976" cy="271.4" r="2.5"/>
<circle cx="980.9" cy="266.6" r="2.5"/>
<circle cx="985.9" cy="262.4" r="2.5"/>
<circle cx="990.9" cy="247.1" r="2.5"/>
<circle cx="995.9" cy="239.2" r="2.5"/>
<circle cx="1000.9" cy="235.3" r="2.5"/>
<circle cx="1005.9" cy="237" r="2.5"/>
<circle cx="1010.9" cy="237.8" r="2.5"/>
<circle cx="1015.9" cy="239.2" r="2.5"/>
<circle cx="1020.9" cy="239.2" r="2.5"/>
<circle cx="1025.9" cy="241.2" r="2.5"/>
<circle cx="1030.9" cy="243.2" r="2.5"/>
<circle cx="1035.9" cy="243.7" r="2.5"/>
<circle cx="1040.9" cy="493.2" r="2.5"/>
<circle cx="1045.8" cy="475.3" r="2.5"/>
<circle cx="1050.8" cy="446.1" r="2.5"/>
<circle cx="1055.8" cy="416.1" r="2.5"/>
<circle cx="1060.8" cy="388.7" r="2.5"/>
<circle cx="1065.8" cy="362.4" r="2.5"/>
<circle cx="1070.8" cy="340.3" r="2.5"/>
<circle cx="1075.8" cy="318.3" r="2.5"/>
<circle cx="1080.8" cy="323.4" r="2.5"/>
<circle cx="1085.8" cy="314.4" r="2.5"/>
<circle cx="1090.8" cy="300.8" r="2.5"/>
<circle cx="1095.8" cy="287.5" r="2.5"/>
<circle cx="1100.8" cy="275.1" r="2.5"/>
<circle cx="1105.7" cy="265.8" r="2.5"/>
<circle cx="1110.7" cy="259" r="2.5"/>
<circle cx="1115.7" cy="256.4" r="2.5"/>
<circle cx="1120.7" cy="261.5" r="2.5"/>
<circle cx="1125.7" cy="251.7" r="2.5"/>
<circle cx="1130.7" cy="254.4" r="2.5"/>
<circle cx="1135.7" cy="251.9" r="2.5"/>
<circle cx="1140.7" cy="453.2" r="2.5"/>
<circle cx="1145.7" cy="426.1" r="2.5"/>
<circle cx="1150.7" cy="401.3" r="2.5"/>
<circle cx="1155.7" cy="381" r="2.5"/>
<circle cx="1160.7" cy="357.3" r="2.5"/>
<circle cx="1165.7" cy="325" r="2.5"/>
<circle cx="1170.6" cy="300.8" r="2.5"/>
<circle cx="1175.6" cy="310.7" r="2.5"/>
<circle cx="1180.6" cy="301.9" r="2.5"/>
<circle cx="1185.6" cy="259" r="2.5"/>
<circle cx="1190.6" cy="231.9" r="2.5"/>
<circle cx="1195.6" cy="248.8" r="2.5"/>
<circle cx="1200.6" cy="257.3" r="2.5"/>
<circle cx="1205.6" cy="273.7" r="2.5"/>
<circle cx="1210.6" cy="294.2" r="2.5"/>
<circle cx="1215.6" cy="291.2" r="2.5"/>
<circle cx="1220.6" cy="282.2" r="2.5"/>
<circle cx="1225.6" cy="275.9" r="2.5"/>
<circle cx="1230.5" cy="268.6" r="2.5"/>
<circle cx="1235.5" cy="262.9" r="2.5"/>
<circle cx="1240.5" cy="259" r="2.5"/>
<circle cx="1245.5" cy="257.3" r="2.5"/>
<circle cx="1250.5" cy="260.7" r="2.5"/>
<circle cx="1255.5" cy="265.8" r="2.5"/>
<circle cx="1260.5" cy="269.2" r="2.5"/>
<circle cx="1265.5" cy="271.7" r="2.5"/>
<circle cx="1270.5" cy="273.1" r="2.5"/>
<circle cx="1275.5" cy="273.4" r="2.5"/>
<circle cx="1280.5" cy="272" r="2.5"/>
<circle cx="1285.5" cy="271.4" r="2.5"/>
<circle cx="1290.5" cy="440.6" r="2.5"/>
<circle cx="1295.4" cy="378.3" r="2.5"/>
<circle cx="1300.4" cy="319.4" r="2.5"/>
<circle cx="1305.4" cy="256.2" r="2.5"/>
<circle cx="1310.4" cy="198" r="2.5"/>
<circle cx="1315.4" cy="163" r="2.5"/>
<circle cx="1320.4" cy="152.9" r="2.5"/>
<circle cx="1325.4" cy="170.5" r="2.5"/>
<circle cx="1330.4" cy="182" r="2.5"/>
<circle cx="1335.4" cy="184.2" r="2.5"/>
<circle cx="1340.4" cy="186.3" r="2.5"/>
<circle cx="1345.4" cy="189.7" r="2.5"/>
<circle cx="1350.4" cy="189.3" r="2.5"/>
<circle cx="1355.3" cy="190.2" r="2.5"/>
<circle cx="1360.3" cy="186.8" r="2.5"/>
<circle cx="1365.3" cy="185.8" r="2.5"/>
<circle cx="1370.3" cy="183.4" r="2.5"/>
<circle cx="1375.3" cy="184.2" r="2.5"/>
<circle cx="1380.3" cy="185.4" r="2.5"/>
<circle cx="1385.3" cy="189.7" r="2.5"/>
<circle cx="1390.3" cy="485.8" r="2.5"/>
<circle cx="1395.3" cy="441.7" r="2.5"/>
<circle cx="1400.3" cy="391.2" r="2.5"/>
<circle cx="1405.3" cy="337" r="2.5"/>
<circle cx="1410.3" cy="276.1" r="2.5"/>
<circle cx="1415.3" cy="219.7" r="2.5"/>
<circle cx="1420.2" cy="184.6" r="2.5"/>
<circle cx="1425.2" cy="184.2" r="2.5"/>
<circle cx="1430.2" cy="200.3" r="2.5"/>
<circle cx="1435.2" cy="193" r="2.5"/>
<circle cx="1440.2" cy="164.7" r="2.5"/>
<circle cx="1445.2" cy="165.1" r="2.5"/>
<circle cx="1450.2" cy="164.7" r="2.5"/>
<circle cx="1455.2" cy="163" r="2.5"/>
<circle cx="1460.2" cy="159.7" r="2.5"/>
<circle cx="1465.2" cy="154.6" r="2.5"/>
<circle cx="1470.2" cy="152.4" r="2.5"/>
<circle cx="1475.2" cy="160.8" r="2.5"/>
<circle cx="1480.1" cy="149.8" r="2.5"/>
<circle cx="1485.1" cy="140.5" r="2.5"/>
<circle cx="1490.1" cy="474.4" r="2.5"/>
<circle cx="1495.1" cy="439.2" r="2.5"/>
<circle cx="1500.1" cy="400.2" r="2.5"/>
<circle cx="1505.1" cy="365.4" r="2.5"/>
<circle cx="1510.1" cy="334.4" r="2.5"/>
<circle cx="1515.1" cy="291" r="2.5"/>
<circle cx="1520.1" cy="247.8" r="2.5"/>
<circle cx="1525.1" cy="227" r="2.5"/>
<circle cx="1530.1" cy="204.6" r="2.5"/>
<circle cx="1535.1" cy="179.5" r="2.5"/>
<circle cx="1540.1" cy="164.7" r="2.5"/>
<circle cx="1545" cy="154" r="2.5"/>
<circle cx="1550" cy="151.5" r="2.5"/>
<circle cx="1555" cy="157.5" r="2.5"/>
<circle cx="1560" cy="160.8" r="2.5"/>
<circle cx="1565" cy="149.8" r="2.5"/>
<circle cx="1570" cy="142.2" r="2.5"/>
<circle cx="1575" cy="138.2" r="2.5"/>
<circle cx="1580" cy="137.1" r="2.5"/>
<circle cx="1585" cy="138.3" r="2.5"/>
<circle cx="1590" cy="486.6" r="2.5"/>
<circle cx="1595" cy="438.3" r="2.5"/>
<circle cx="1600" cy="368.8" r="2.5"/>
<circle cx="1604.9" cy="294.8" r="2.5"/>
<circle cx="1609.9" cy="220.2" r="2.5"/>
<circle cx="1614.9" cy="150.2" r="2.5"/>
<circle cx="1619.9" cy="103.7" r="2.5"/>
<circle cx="1624.9" cy="91" r="2.5"/>
<circle cx="1629.9" cy="117.3" r="2.5"/>
<circle cx="1634.9" cy="124.1" r="2.5"/>
<circle cx="1639.9" cy="122.7" r="2.5"/>
<circle cx="1644.9" cy="124.9" r="2.5"/>
<circle cx="1649.9" cy="126.4" r="2.5"/>
<circle cx="1654.9" cy="127.8" r="2.5"/>
<circle cx="1659.9" cy="128.6" r="2.5"/>
<circle cx="1664.9" cy="129" r="2.5"/>
<circle cx="1669.8" cy="129.2" r="2.5"/>
<circle cx="1674.8" cy="130.3" r="2.5"/>
<circle cx="1679.8" cy="131.7" r="2.5"/>
<circle cx="1684.8" cy="132.6" r="2.5"/>
</g>
</g>
<g id="seglabels-a" font-size="37" text-anchor="middle" fill="#7B1CFF">
<text x="169" y="505.4">2</text>
<text x="243.4" y="507">8.5</text>
<text x="372.5" y="505">10</text>
<text x="489.3" y="506.8">14.5</text>
<text x="581.3" y="506.8">17</text>
<text x="681.3" y="506.8">22</text>
<text x="791" y="508">24</text>
<text x="875.4" y="506.3">25</text>
<text x="991" y="508.8">34</text>
<text x="1081.7" y="502.9">38</text>
<text x="1207.6" y="503.7">45</text>
<text x="1335.9" y="507">47</text>
<text x="1441" y="505.3">49</text>
<text x="1537.7" y="503.6">51</text>
<text x="1636.6" y="505.3" fill="#FF0000">57</text>
</g>
<g id="legend-a" font-size="37.6">
<line x1="449.7" y1="73.8" x2="481.6" y2="73.8" stroke="#007A00" stroke-width="2.4"/><rect x="462.6" y="70.8" width="6" height="6" fill="#007A00"/>
<line x1="449.7" y1="119.8" x2="481.6" y2="119.8" stroke="#FF8000" stroke-width="2.4"/><circle cx="465.6" cy="119.8" r="3.3" fill="#FF8000"/>
<line x1="449.7" y1="165" x2="481.6" y2="165" stroke="#7A0CFF" stroke-width="2.4"/><circle cx="465.6" cy="165" r="2.5" fill="#fff" stroke="#7A0CFF" stroke-width="2.0"/>
<text x="491.8" y="79.4">real value</text>
<text x="487.2" y="123.8">multiple linear regression</text>
<text x="487.5" y="169.8">Libsvm regression</text>
</g>
<g id="bands-b">
<rect x="346" y="756" width="151.0" height="546" fill="#C2FDC3"/>
<rect x="346" y="756" width="151.0" height="546" fill="url(#mesh)"/>
<rect x="715.9" y="756" width="153.8" height="546" fill="#A048FA"/>
<rect x="715.9" y="756" width="153.8" height="546" fill="url(#mesh)"/>
<rect x="1013" y="756" width="152.5" height="546" fill="#FC3DF8"/>
<rect x="1013" y="756" width="152.5" height="546" fill="url(#mesh)"/>
<rect x="1318" y="756" width="219.2" height="546" fill="#FEC5E4"/>
<rect x="1318" y="756" width="219.2" height="546" fill="url(#mesh)"/>
</g>
<g id="axes-b">
<rect x="202" y="752" width="1553.4" height="5" fill="#800000"/>
<rect x="1751.2" y="752" width="4.2" height="553.5" fill="#800000"/>
<rect x="215.9" y="1300.6" width="1539.5" height="4.9" fill="#800000"/>
<rect x="374.4" y="1290.8" width="4.4" height="11" fill="#800000"/>
<rect x="560.2" y="1278" width="4.6" height="24" fill="#800000"/>
<rect x="746.1" y="1290.8" width="4.4" height="11" fill="#800000"/>
<rect x="931.8" y="1278" width="4.6" height="24" fill="#800000"/>
<rect x="1117.7" y="1290.8" width="4.4" height="11" fill="#800000"/>
<rect x="1303.5" y="1278" width="4.6" height="24" fill="#800000"/>
<rect x="1489.4" y="1290.8" width="4.4" height="11" fill="#800000"/>
<rect x="1675.1" y="1278" width="4.6" height="24" fill="#800000"/>
<rect x="188.4" y="752" width="4.8" height="553.5" fill="#800080"/>
<rect x="188.4" y="752" width="13.6" height="5" fill="#800080"/>
<rect x="188.4" y="1300.6" width="27.5" height="4.9" fill="#800080"/>
<rect x="191" y="1245.8" width="12.1" height="4.8" fill="#800080"/>
<rect x="191" y="1191" width="24.9" height="4.6" fill="#800080"/>
<rect x="191" y="1136" width="12.1" height="4.8" fill="#800080"/>
<rect x="191" y="1081.3" width="24.9" height="4.6" fill="#800080"/>
<rect x="191" y="1026.3" width="12.1" height="4.8" fill="#800080"/>
<rect x="191" y="971.6" width="24.9" height="4.6" fill="#800080"/>
<rect x="191" y="916.6" width="12.1" height="4.8" fill="#800080"/>
<rect x="191" y="861.9" width="24.9" height="4.6" fill="#800080"/>
<rect x="191" y="806.9" width="12.1" height="4.8" fill="#800080"/>
</g>
<g id="labels-b" font-size="40">
<text x="164" y="1315.8" text-anchor="end" fill="#7A0A74">0</text>
<text x="164" y="1206.1" text-anchor="end" fill="#7A0A74">10</text>
<text x="164" y="1096.4" text-anchor="end" fill="#7A0A74">20</text>
<text x="164" y="986.7" text-anchor="end" fill="#7A0A74">30</text>
<text x="164" y="877" text-anchor="end" fill="#7A0A74">40</text>
<text x="164" y="767.3" text-anchor="end" fill="#7A0A74">50</text>
<text x="192.3" y="1362" text-anchor="middle" fill="#800000">0</text>
<text x="564" y="1362" text-anchor="middle" fill="#800000">50</text>
<text x="935.6" y="1362" text-anchor="middle" fill="#800000">100</text>
<text x="1307.2" y="1362" text-anchor="middle" fill="#800000">150</text>
<text x="1678.9" y="1362" text-anchor="middle" fill="#800000">200</text>
<text x="691.4" y="1402.8" fill="#000" font-size="40.5">Cumulative number of samples</text>
<text x="68.5" y="777.8" fill="#000">(b)</text>
<text transform="translate(99.4,1274.1) rotate(-90)" fill="#000" font-size="40.6">Rate of advance/(mm·min<tspan font-size="19" dy="-23">-1</tspan><tspan dy="23">)</tspan></text>
</g>
<g id="data-b" clip-path="url(#clipb)">
<polyline points="198.2,1259 205.7,962 213.1,973.9 220.5,985.4 228,973.9 235.4,984.9 242.8,974.7 250.3,975.6 257.7,973.9 265.1,974.7 272.6,962.9 280,930.7 287.4,918.8 294.9,907.8 302.3,918.8 309.7,919.7 317.2,919.7 324.6,919.7 332,907.8 339.5,907 346.9,1281 354.3,1237 361.8,984.9 369.2,930 376.6,887 384.1,886.6 391.5,886.6 398.9,886.6 406.4,886.6 413.8,885.8 421.2,886.6 428.7,885.8 436.1,886.6 443.5,886.6 451,886.6 458.4,887.5 465.8,886.5 473.3,885.8 480.7,887.5 488.1,896 495.6,1196.8 503,1179.3 510.4,1144 517.9,1066 525.3,1009 532.7,959.5 540.2,938.3 547.6,947 555,970.5 562.5,964.6 569.9,964 577.3,993.4 584.7,1004 592.2,1003.6 599.6,996 607,980.7 614.5,972 621.9,978 629.3,973 636.8,957 644.2,951.9 651.6,975.6 659.1,983 666.5,983 673.9,984 681.4,984.5 688.8,985 696.2,985.5 703.7,986.5 711.1,986 718.5,1292.9 726,1038.3 733.4,1018.8 740.8,1008 748.3,987 755.7,975 763.1,962 770.6,951.9 778,941.4 785.4,941.7 792.9,928 800.3,940 807.7,929 815.2,919 822.6,919.3 830,919.7 837.5,918.8 844.9,909 852.3,908.5 859.8,908.5 867.2,1248.8 874.6,1226.8 882.1,1150.5 889.5,964.5 896.9,964.6 904.4,964.6 911.8,961.2 919.2,950.2 926.7,950.2 934.1,952.5 941.5,952.7 949,952.5 956.4,952.7 963.8,951.5 971.3,951.5 978.7,951.5 986.1,952 993.6,952 1001,952.7 1008.4,950.2 1015.9,1128.5 1023.3,963.7 1030.7,940.8 1038.2,941 1045.6,941.7 1053,930.5 1060.5,930.7 1067.9,921.4 1075.3,920 1082.8,931.5 1090.2,940.7 1097.6,951.7 1105.1,952 1112.5,952 1119.9,952 1127.4,951.4 1134.8,951.4 1142.2,962 1149.7,963 1157.1,962.7 1164.5,1270 1172,974.6 1179.4,865 1186.8,821.2 1194.3,819.5 1201.7,820 1209.1,842.4 1216.6,898 1224,908.5 1231.4,897.5 1238.9,863.6 1246.3,864 1253.7,874.6 1261.2,898 1268.6,907.6 1276,908 1283.5,908.5 1290.9,898.3 1298.3,897 1305.8,907.6 1313.2,1226.8 1320.6,1227.3 1328,1050 1335.5,1039 1342.9,1044 1350.3,1006 1357.8,951.7 1365.2,951.7 1372.6,961.9 1380.1,1050 1387.5,1128.5 1394.9,1072.9 1402.4,1060.2 1409.8,1061.5 1417.2,1050 1424.7,1050.8 1432.1,941.5 1439.5,933 1447,940.7 1454.4,987 1461.8,986 1469.3,951.7 1476.7,951.7 1484.1,951.7 1491.6,951.7 1499,951.7 1506.4,951.7 1513.9,951.7 1521.3,961.4 1528.7,995 1536.2,1162.9 1543.6,1141.2 1551,1104 1558.5,1061 1565.9,1015 1573.3,989.8 1580.8,962 1588.2,944 1595.6,943 1603.1,941.3 1610.5,939.7 1617.9,934.6 1625.4,924.7 1632.8,920.5 1640.2,920.5 1647.7,921.4 1655.1,923.6 1662.5,927 1670,930.7 1677.4,935.8 1684.8,940 1692.3,943.4 1699.7,943.7 1707.1,942.5 1714.6,945.1 1722,947.1 1729.4,948.1 1736.9,947.6 1744.3,946.8 1751.7,944.2" fill="none" stroke="#08E408" stroke-width="2.2" stroke-linejoin="round"/>
<g fill="#ffffff" stroke="#08E408" stroke-width="2.0">
<circle cx="198.2" cy="1259" r="2.5"/>
<circle cx="205.7" cy="962" r="2.5"/>
<circle cx="213.1" cy="973.9" r="2.5"/>
<circle cx="220.5" cy="985.4" r="2.5"/>
<circle cx="228" cy="973.9" r="2.5"/>
<circle cx="235.4" cy="984.9" r="2.5"/>
<circle cx="242.8" cy="974.7" r="2.5"/>
<circle cx="250.3" cy="975.6" r="2.5"/>
<circle cx="257.7" cy="973.9" r="2.5"/>
<circle cx="265.1" cy="974.7" r="2.5"/>
<circle cx="272.6" cy="962.9" r="2.5"/>
<circle cx="280" cy="930.7" r="2.5"/>
<circle cx="287.4" cy="918.8" r="2.5"/>
<circle cx="294.9" cy="907.8" r="2.5"/>
<circle cx="302.3" cy="918.8" r="2.5"/>
<circle cx="309.7" cy="919.7" r="2.5"/>
<circle cx="317.2" cy="919.7" r="2.5"/>
<circle cx="324.6" cy="919.7" r="2.5"/>
<circle cx="332" cy="907.8" r="2.5"/>
<circle cx="339.5" cy="907" r="2.5"/>
<circle cx="346.9" cy="1281" r="2.5"/>
<circle cx="354.3" cy="1237" r="2.5"/>
<circle cx="361.8" cy="984.9" r="2.5"/>
<circle cx="369.2" cy="930" r="2.5"/>
<circle cx="376.6" cy="887" r="2.5"/>
<circle cx="384.1" cy="886.6" r="2.5"/>
<circle cx="391.5" cy="886.6" r="2.5"/>
<circle cx="398.9" cy="886.6" r="2.5"/>
<circle cx="406.4" cy="886.6" r="2.5"/>
<circle cx="413.8" cy="885.8" r="2.5"/>
<circle cx="421.2" cy="886.6" r="2.5"/>
<circle cx="428.7" cy="885.8" r="2.5"/>
<circle cx="436.1" cy="886.6" r="2.5"/>
<circle cx="443.5" cy="886.6" r="2.5"/>
<circle cx="451" cy="886.6" r="2.5"/>
<circle cx="458.4" cy="887.5" r="2.5"/>
<circle cx="465.8" cy="886.5" r="2.5"/>
<circle cx="473.3" cy="885.8" r="2.5"/>
<circle cx="480.7" cy="887.5" r="2.5"/>
<circle cx="488.1" cy="896" r="2.5"/>
<circle cx="495.6" cy="1196.8" r="2.5"/>
<circle cx="503" cy="1179.3" r="2.5"/>
<circle cx="510.4" cy="1144" r="2.5"/>
<circle cx="517.9" cy="1066" r="2.5"/>
<circle cx="525.3" cy="1009" r="2.5"/>
<circle cx="532.7" cy="959.5" r="2.5"/>
<circle cx="540.2" cy="938.3" r="2.5"/>
<circle cx="547.6" cy="947" r="2.5"/>
<circle cx="555" cy="970.5" r="2.5"/>
<circle cx="562.5" cy="964.6" r="2.5"/>
<circle cx="569.9" cy="964" r="2.5"/>
<circle cx="577.3" cy="993.4" r="2.5"/>
<circle cx="584.7" cy="1004" r="2.5"/>
<circle cx="592.2" cy="1003.6" r="2.5"/>
<circle cx="599.6" cy="996" r="2.5"/>
<circle cx="607" cy="980.7" r="2.5"/>
<circle cx="614.5" cy="972" r="2.5"/>
<circle cx="621.9" cy="978" r="2.5"/>
<circle cx="629.3" cy="973" r="2.5"/>
<circle cx="636.8" cy="957" r="2.5"/>
<circle cx="644.2" cy="951.9" r="2.5"/>
<circle cx="651.6" cy="975.6" r="2.5"/>
<circle cx="659.1" cy="983" r="2.5"/>
<circle cx="666.5" cy="983" r="2.5"/>
<circle cx="673.9" cy="984" r="2.5"/>
<circle cx="681.4" cy="984.5" r="2.5"/>
<circle cx="688.8" cy="985" r="2.5"/>
<circle cx="696.2" cy="985.5" r="2.5"/>
<circle cx="703.7" cy="986.5" r="2.5"/>
<circle cx="711.1" cy="986" r="2.5"/>
<circle cx="718.5" cy="1292.9" r="2.5"/>
<circle cx="726" cy="1038.3" r="2.5"/>
<circle cx="733.4" cy="1018.8" r="2.5"/>
<circle cx="740.8" cy="1008" r="2.5"/>
<circle cx="748.3" cy="987" r="2.5"/>
<circle cx="755.7" cy="975" r="2.5"/>
<circle cx="763.1" cy="962" r="2.5"/>
<circle cx="770.6" cy="951.9" r="2.5"/>
<circle cx="778" cy="941.4" r="2.5"/>
<circle cx="785.4" cy="941.7" r="2.5"/>
<circle cx="792.9" cy="928" r="2.5"/>
<circle cx="800.3" cy="940" r="2.5"/>
<circle cx="807.7" cy="929" r="2.5"/>
<circle cx="815.2" cy="919" r="2.5"/>
<circle cx="822.6" cy="919.3" r="2.5"/>
<circle cx="830" cy="919.7" r="2.5"/>
<circle cx="837.5" cy="918.8" r="2.5"/>
<circle cx="844.9" cy="909" r="2.5"/>
<circle cx="852.3" cy="908.5" r="2.5"/>
<circle cx="859.8" cy="908.5" r="2.5"/>
<circle cx="867.2" cy="1248.8" r="2.5"/>
<circle cx="874.6" cy="1226.8" r="2.5"/>
<circle cx="882.1" cy="1150.5" r="2.5"/>
<circle cx="889.5" cy="964.5" r="2.5"/>
<circle cx="896.9" cy="964.6" r="2.5"/>
<circle cx="904.4" cy="964.6" r="2.5"/>
<circle cx="911.8" cy="961.2" r="2.5"/>
<circle cx="919.2" cy="950.2" r="2.5"/>
<circle cx="926.7" cy="950.2" r="2.5"/>
<circle cx="934.1" cy="952.5" r="2.5"/>
<circle cx="941.5" cy="952.7" r="2.5"/>
<circle cx="949" cy="952.5" r="2.5"/>
<circle cx="956.4" cy="952.7" r="2.5"/>
<circle cx="963.8" cy="951.5" r="2.5"/>
<circle cx="971.3" cy="951.5" r="2.5"/>
<circle cx="978.7" cy="951.5" r="2.5"/>
<circle cx="986.1" cy="952" r="2.5"/>
<circle cx="993.6" cy="952" r="2.5"/>
<circle cx="1001" cy="952.7" r="2.5"/>
<circle cx="1008.4" cy="950.2" r="2.5"/>
<circle cx="1015.9" cy="1128.5" r="2.5"/>
<circle cx="1023.3" cy="963.7" r="2.5"/>
<circle cx="1030.7" cy="940.8" r="2.5"/>
<circle cx="1038.2" cy="941" r="2.5"/>
<circle cx="1045.6" cy="941.7" r="2.5"/>
<circle cx="1053" cy="930.5" r="2.5"/>
<circle cx="1060.5" cy="930.7" r="2.5"/>
<circle cx="1067.9" cy="921.4" r="2.5"/>
<circle cx="1075.3" cy="920" r="2.5"/>
<circle cx="1082.8" cy="931.5" r="2.5"/>
<circle cx="1090.2" cy="940.7" r="2.5"/>
<circle cx="1097.6" cy="951.7" r="2.5"/>
<circle cx="1105.1" cy="952" r="2.5"/>
<circle cx="1112.5" cy="952" r="2.5"/>
<circle cx="1119.9" cy="952" r="2.5"/>
<circle cx="1127.4" cy="951.4" r="2.5"/>
<circle cx="1134.8" cy="951.4" r="2.5"/>
<circle cx="1142.2" cy="962" r="2.5"/>
<circle cx="1149.7" cy="963" r="2.5"/>
<circle cx="1157.1" cy="962.7" r="2.5"/>
<circle cx="1164.5" cy="1270" r="2.5"/>
<circle cx="1172" cy="974.6" r="2.5"/>
<circle cx="1179.4" cy="865" r="2.5"/>
<circle cx="1186.8" cy="821.2" r="2.5"/>
<circle cx="1194.3" cy="819.5" r="2.5"/>
<circle cx="1201.7" cy="820" r="2.5"/>
<circle cx="1209.1" cy="842.4" r="2.5"/>
<circle cx="1216.6" cy="898" r="2.5"/>
<circle cx="1224" cy="908.5" r="2.5"/>
<circle cx="1231.4" cy="897.5" r="2.5"/>
<circle cx="1238.9" cy="863.6" r="2.5"/>
<circle cx="1246.3" cy="864" r="2.5"/>
<circle cx="1253.7" cy="874.6" r="2.5"/>
<circle cx="1261.2" cy="898" r="2.5"/>
<circle cx="1268.6" cy="907.6" r="2.5"/>
<circle cx="1276" cy="908" r="2.5"/>
<circle cx="1283.5" cy="908.5" r="2.5"/>
<circle cx="1290.9" cy="898.3" r="2.5"/>
<circle cx="1298.3" cy="897" r="2.5"/>
<circle cx="1305.8" cy="907.6" r="2.5"/>
<circle cx="1313.2" cy="1226.8" r="2.5"/>
<circle cx="1320.6" cy="1227.3" r="2.5"/>
<circle cx="1328" cy="1050" r="2.5"/>
<circle cx="1335.5" cy="1039" r="2.5"/>
<circle cx="1342.9" cy="1044" r="2.5"/>
<circle cx="1350.3" cy="1006" r="2.5"/>
<circle cx="1357.8" cy="951.7" r="2.5"/>
<circle cx="1365.2" cy="951.7" r="2.5"/>
<circle cx="1372.6" cy="961.9" r="2.5"/>
<circle cx="1380.1" cy="1050" r="2.5"/>
<circle cx="1387.5" cy="1128.5" r="2.5"/>
<circle cx="1394.9" cy="1072.9" r="2.5"/>
<circle cx="1402.4" cy="1060.2" r="2.5"/>
<circle cx="1409.8" cy="1061.5" r="2.5"/>
<circle cx="1417.2" cy="1050" r="2.5"/>
<circle cx="1424.7" cy="1050.8" r="2.5"/>
<circle cx="1432.1" cy="941.5" r="2.5"/>
<circle cx="1439.5" cy="933" r="2.5"/>
<circle cx="1447" cy="940.7" r="2.5"/>
<circle cx="1454.4" cy="987" r="2.5"/>
<circle cx="1461.8" cy="986" r="2.5"/>
<circle cx="1469.3" cy="951.7" r="2.5"/>
<circle cx="1476.7" cy="951.7" r="2.5"/>
<circle cx="1484.1" cy="951.7" r="2.5"/>
<circle cx="1491.6" cy="951.7" r="2.5"/>
<circle cx="1499" cy="951.7" r="2.5"/>
<circle cx="1506.4" cy="951.7" r="2.5"/>
<circle cx="1513.9" cy="951.7" r="2.5"/>
<circle cx="1521.3" cy="961.4" r="2.5"/>
<circle cx="1528.7" cy="995" r="2.5"/>
<circle cx="1536.2" cy="1162.9" r="2.5"/>
<circle cx="1543.6" cy="1141.2" r="2.5"/>
<circle cx="1551" cy="1104" r="2.5"/>
<circle cx="1558.5" cy="1061" r="2.5"/>
<circle cx="1565.9" cy="1015" r="2.5"/>
<circle cx="1573.3" cy="989.8" r="2.5"/>
<circle cx="1580.8" cy="962" r="2.5"/>
<circle cx="1588.2" cy="944" r="2.5"/>
<circle cx="1595.6" cy="943" r="2.5"/>
<circle cx="1603.1" cy="941.3" r="2.5"/>
<circle cx="1610.5" cy="939.7" r="2.5"/>
<circle cx="1617.9" cy="934.6" r="2.5"/>
<circle cx="1625.4" cy="924.7" r="2.5"/>
<circle cx="1632.8" cy="920.5" r="2.5"/>
<circle cx="1640.2" cy="920.5" r="2.5"/>
<circle cx="1647.7" cy="921.4" r="2.5"/>
<circle cx="1655.1" cy="923.6" r="2.5"/>
<circle cx="1662.5" cy="927" r="2.5"/>
<circle cx="1670" cy="930.7" r="2.5"/>
<circle cx="1677.4" cy="935.8" r="2.5"/>
<circle cx="1684.8" cy="940" r="2.5"/>
<circle cx="1692.3" cy="943.4" r="2.5"/>
<circle cx="1699.7" cy="943.7" r="2.5"/>
<circle cx="1707.1" cy="942.5" r="2.5"/>
<circle cx="1714.6" cy="945.1" r="2.5"/>
<circle cx="1722" cy="947.1" r="2.5"/>
<circle cx="1729.4" cy="948.1" r="2.5"/>
<circle cx="1736.9" cy="947.6" r="2.5"/>
<circle cx="1744.3" cy="946.8" r="2.5"/>
<circle cx="1751.7" cy="944.2" r="2.5"/>
</g>
<polyline points="198.2,1259 205.7,967.1 213.1,969.7 220.5,981 228,969.7 235.4,980.3 242.8,972.7 250.3,973.9 257.7,969.2 265.1,973 272.6,967.5 280,925.3 287.4,923 294.9,912.9 302.3,911.2 309.7,914.6 317.2,916.3 324.6,916.6 332,910.8 339.5,905.3 346.9,1276.4 354.3,1241.5 361.8,980.3 369.2,929.3 376.6,885.8 384.1,881.5 391.5,882 398.9,882 406.4,882.7 413.8,891.4 421.2,883.2 428.7,878.6 436.1,883.2 443.5,882.7 451,884.1 458.4,887.1 465.8,886.1 473.3,891.7 480.7,887.5 488.1,891.7 495.6,1192 503,1176.4 510.4,1142 517.9,1069 525.3,1012 532.7,963.7 540.2,941.7 547.6,946.4 555,967.1 562.5,961.7 569.9,961.7 577.3,988.3 584.7,999.3 592.2,998.5 599.6,990.5 607,976.1 614.5,969.7 621.9,976.4 629.3,972.2 636.8,961.7 644.2,956.1 651.6,979 659.1,979.8 666.5,979.5 673.9,979.8 681.4,979.5 688.8,980.7 696.2,981.2 703.7,982.4 711.1,983.7 718.5,1286.4 726,1041.7 733.4,1014.2 740.8,1007.5 748.3,982.4 755.7,972.2 763.1,966.3 770.6,956.1 778,945.9 785.4,936.6 792.9,931 800.3,945.9 807.7,931 815.2,919.7 822.6,919.3 830,914.2 837.5,908.6 844.9,908.3 852.3,908.1 859.8,908.1 867.2,1243.2 874.6,1221.2 882.1,1147.1 889.5,964.1 896.9,957.5 904.4,957.5 911.8,968 919.2,952.7 926.7,952.7 934.1,952.7 941.5,947.6 949,952.4 956.4,947.3 963.8,952.4 971.3,952.7 978.7,952.4 986.1,953.2 993.6,953.2 1001,948.1 1008.4,952.4 1015.9,1122.9 1023.3,958.6 1030.7,946.3 1038.2,940.8 1045.6,936.6 1053,930.3 1060.5,925.3 1067.9,914.6 1075.3,919.2 1082.8,923.9 1090.2,944.9 1097.6,945.8 1105.1,951.7 1112.5,952 1119.9,957.6 1127.4,957.6 1134.8,959.3 1142.2,962.4 1149.7,972.9 1157.1,981.7 1164.5,1269.7 1172,970.3 1179.4,864.9 1186.8,825.1 1194.3,821.7 1201.7,822.9 1209.1,839 1216.6,897.8 1224,904.7 1231.4,901.4 1238.9,859.3 1246.3,864 1253.7,877.1 1261.2,900.5 1268.6,901.7 1276,907.6 1283.5,905.9 1290.9,894.6 1298.3,896.6 1305.8,902.2 1313.2,1230.2 1320.6,1220.8 1328,1052.5 1335.5,1040.3 1342.9,1044.9 1350.3,1006.3 1357.8,956.8 1365.2,949.2 1372.6,964.9 1380.1,1055.1 1387.5,1122.9 1394.9,1068.3 1402.4,1062.7 1409.8,1061.9 1417.2,1045.8 1424.7,1055.4 1432.1,936.4 1439.5,928.8 1447,942.9 1454.4,988.1 1461.8,986.8 1469.3,956.8 1476.7,957.6 1484.1,958 1491.6,957.6 1499,958 1506.4,959.3 1513.9,959.3 1521.3,965.8 1528.7,995.3 1536.2,1157.8 1543.6,1137 1551,1103.2 1558.5,1064.5 1565.9,1015.7 1573.3,984.8 1580.8,961.8 1588.2,945.9 1595.6,946.5 1603.1,944.7 1610.5,943.1 1617.9,938 1625.4,929.8 1632.8,925.3 1640.2,926.1 1647.7,927.3 1655.1,929 1662.5,932 1670,934.9 1677.4,939.7 1684.8,945.4 1692.3,949.8 1699.7,951 1707.1,950.5 1714.6,951.9 1722,953.2 1729.4,952.7 1736.9,951.9 1744.3,951.5 1751.7,951" fill="none" stroke="#7A0CFF" stroke-width="2.4" stroke-linejoin="round"/>
<g fill="#ffffff" stroke="#7A0CFF" stroke-width="2.0">
<circle cx="198.2" cy="1259" r="2.5"/>
<circle cx="205.7" cy="967.1" r="2.5"/>
<circle cx="213.1" cy="969.7" r="2.5"/>
<circle cx="220.5" cy="981" r="2.5"/>
<circle cx="228" cy="969.7" r="2.5"/>
<circle cx="235.4" cy="980.3" r="2.5"/>
<circle cx="242.8" cy="972.7" r="2.5"/>
<circle cx="250.3" cy="973.9" r="2.5"/>
<circle cx="257.7" cy="969.2" r="2.5"/>
<circle cx="265.1" cy="973" r="2.5"/>
<circle cx="272.6" cy="967.5" r="2.5"/>
<circle cx="280" cy="925.3" r="2.5"/>
<circle cx="287.4" cy="923" r="2.5"/>
<circle cx="294.9" cy="912.9" r="2.5"/>
<circle cx="302.3" cy="911.2" r="2.5"/>
<circle cx="309.7" cy="914.6" r="2.5"/>
<circle cx="317.2" cy="916.3" r="2.5"/>
<circle cx="324.6" cy="916.6" r="2.5"/>
<circle cx="332" cy="910.8" r="2.5"/>
<circle cx="339.5" cy="905.3" r="2.5"/>
<circle cx="346.9" cy="1276.4" r="2.5"/>
<circle cx="354.3" cy="1241.5" r="2.5"/>
<circle cx="361.8" cy="980.3" r="2.5"/>
<circle cx="369.2" cy="929.3" r="2.5"/>
<circle cx="376.6" cy="885.8" r="2.5"/>
<circle cx="384.1" cy="881.5" r="2.5"/>
<circle cx="391.5" cy="882" r="2.5"/>
<circle cx="398.9" cy="882" r="2.5"/>
<circle cx="406.4" cy="882.7" r="2.5"/>
<circle cx="413.8" cy="891.4" r="2.5"/>
<circle cx="421.2" cy="883.2" r="2.5"/>
<circle cx="428.7" cy="878.6" r="2.5"/>
<circle cx="436.1" cy="883.2" r="2.5"/>
<circle cx="443.5" cy="882.7" r="2.5"/>
<circle cx="451" cy="884.1" r="2.5"/>
<circle cx="458.4" cy="887.1" r="2.5"/>
<circle cx="465.8" cy="886.1" r="2.5"/>
<circle cx="473.3" cy="891.7" r="2.5"/>
<circle cx="480.7" cy="887.5" r="2.5"/>
<circle cx="488.1" cy="891.7" r="2.5"/>
<circle cx="495.6" cy="1192" r="2.5"/>
<circle cx="503" cy="1176.4" r="2.5"/>
<circle cx="510.4" cy="1142" r="2.5"/>
<circle cx="517.9" cy="1069" r="2.5"/>
<circle cx="525.3" cy="1012" r="2.5"/>
<circle cx="532.7" cy="963.7" r="2.5"/>
<circle cx="540.2" cy="941.7" r="2.5"/>
<circle cx="547.6" cy="946.4" r="2.5"/>
<circle cx="555" cy="967.1" r="2.5"/>
<circle cx="562.5" cy="961.7" r="2.5"/>
<circle cx="569.9" cy="961.7" r="2.5"/>
<circle cx="577.3" cy="988.3" r="2.5"/>
<circle cx="584.7" cy="999.3" r="2.5"/>
<circle cx="592.2" cy="998.5" r="2.5"/>
<circle cx="599.6" cy="990.5" r="2.5"/>
<circle cx="607" cy="976.1" r="2.5"/>
<circle cx="614.5" cy="969.7" r="2.5"/>
<circle cx="621.9" cy="976.4" r="2.5"/>
<circle cx="629.3" cy="972.2" r="2.5"/>
<circle cx="636.8" cy="961.7" r="2.5"/>
<circle cx="644.2" cy="956.1" r="2.5"/>
<circle cx="651.6" cy="979" r="2.5"/>
<circle cx="659.1" cy="979.8" r="2.5"/>
<circle cx="666.5" cy="979.5" r="2.5"/>
<circle cx="673.9" cy="979.8" r="2.5"/>
<circle cx="681.4" cy="979.5" r="2.5"/>
<circle cx="688.8" cy="980.7" r="2.5"/>
<circle cx="696.2" cy="981.2" r="2.5"/>
<circle cx="703.7" cy="982.4" r="2.5"/>
<circle cx="711.1" cy="983.7" r="2.5"/>
<circle cx="718.5" cy="1286.4" r="2.5"/>
<circle cx="726" cy="1041.7" r="2.5"/>
<circle cx="733.4" cy="1014.2" r="2.5"/>
<circle cx="740.8" cy="1007.5" r="2.5"/>
<circle cx="748.3" cy="982.4" r="2.5"/>
<circle cx="755.7" cy="972.2" r="2.5"/>
<circle cx="763.1" cy="966.3" r="2.5"/>
<circle cx="770.6" cy="956.1" r="2.5"/>
<circle cx="778" cy="945.9" r="2.5"/>
<circle cx="785.4" cy="936.6" r="2.5"/>
<circle cx="792.9" cy="931" r="2.5"/>
<circle cx="800.3" cy="945.9" r="2.5"/>
<circle cx="807.7" cy="931" r="2.5"/>
<circle cx="815.2" cy="919.7" r="2.5"/>
<circle cx="822.6" cy="919.3" r="2.5"/>
<circle cx="830" cy="914.2" r="2.5"/>
<circle cx="837.5" cy="908.6" r="2.5"/>
<circle cx="844.9" cy="908.3" r="2.5"/>
<circle cx="852.3" cy="908.1" r="2.5"/>
<circle cx="859.8" cy="908.1" r="2.5"/>
<circle cx="867.2" cy="1243.2" r="2.5"/>
<circle cx="874.6" cy="1221.2" r="2.5"/>
<circle cx="882.1" cy="1147.1" r="2.5"/>
<circle cx="889.5" cy="964.1" r="2.5"/>
<circle cx="896.9" cy="957.5" r="2.5"/>
<circle cx="904.4" cy="957.5" r="2.5"/>
<circle cx="911.8" cy="968" r="2.5"/>
<circle cx="919.2" cy="952.7" r="2.5"/>
<circle cx="926.7" cy="952.7" r="2.5"/>
<circle cx="934.1" cy="952.7" r="2.5"/>
<circle cx="941.5" cy="947.6" r="2.5"/>
<circle cx="949" cy="952.4" r="2.5"/>
<circle cx="956.4" cy="947.3" r="2.5"/>
<circle cx="963.8" cy="952.4" r="2.5"/>
<circle cx="971.3" cy="952.7" r="2.5"/>
<circle cx="978.7" cy="952.4" r="2.5"/>
<circle cx="986.1" cy="953.2" r="2.5"/>
<circle cx="993.6" cy="953.2" r="2.5"/>
<circle cx="1001" cy="948.1" r="2.5"/>
<circle cx="1008.4" cy="952.4" r="2.5"/>
<circle cx="1015.9" cy="1122.9" r="2.5"/>
<circle cx="1023.3" cy="958.6" r="2.5"/>
<circle cx="1030.7" cy="946.3" r="2.5"/>
<circle cx="1038.2" cy="940.8" r="2.5"/>
<circle cx="1045.6" cy="936.6" r="2.5"/>
<circle cx="1053" cy="930.3" r="2.5"/>
<circle cx="1060.5" cy="925.3" r="2.5"/>
<circle cx="1067.9" cy="914.6" r="2.5"/>
<circle cx="1075.3" cy="919.2" r="2.5"/>
<circle cx="1082.8" cy="923.9" r="2.5"/>
<circle cx="1090.2" cy="944.9" r="2.5"/>
<circle cx="1097.6" cy="945.8" r="2.5"/>
<circle cx="1105.1" cy="951.7" r="2.5"/>
<circle cx="1112.5" cy="952" r="2.5"/>
<circle cx="1119.9" cy="957.6" r="2.5"/>
<circle cx="1127.4" cy="957.6" r="2.5"/>
<circle cx="1134.8" cy="959.3" r="2.5"/>
<circle cx="1142.2" cy="962.4" r="2.5"/>
<circle cx="1149.7" cy="972.9" r="2.5"/>
<circle cx="1157.1" cy="981.7" r="2.5"/>
<circle cx="1164.5" cy="1269.7" r="2.5"/>
<circle cx="1172" cy="970.3" r="2.5"/>
<circle cx="1179.4" cy="864.9" r="2.5"/>
<circle cx="1186.8" cy="825.1" r="2.5"/>
<circle cx="1194.3" cy="821.7" r="2.5"/>
<circle cx="1201.7" cy="822.9" r="2.5"/>
<circle cx="1209.1" cy="839" r="2.5"/>
<circle cx="1216.6" cy="897.8" r="2.5"/>
<circle cx="1224" cy="904.7" r="2.5"/>
<circle cx="1231.4" cy="901.4" r="2.5"/>
<circle cx="1238.9" cy="859.3" r="2.5"/>
<circle cx="1246.3" cy="864" r="2.5"/>
<circle cx="1253.7" cy="877.1" r="2.5"/>
<circle cx="1261.2" cy="900.5" r="2.5"/>
<circle cx="1268.6" cy="901.7" r="2.5"/>
<circle cx="1276" cy="907.6" r="2.5"/>
<circle cx="1283.5" cy="905.9" r="2.5"/>
<circle cx="1290.9" cy="894.6" r="2.5"/>
<circle cx="1298.3" cy="896.6" r="2.5"/>
<circle cx="1305.8" cy="902.2" r="2.5"/>
<circle cx="1313.2" cy="1230.2" r="2.5"/>
<circle cx="1320.6" cy="1220.8" r="2.5"/>
<circle cx="1328" cy="1052.5" r="2.5"/>
<circle cx="1335.5" cy="1040.3" r="2.5"/>
<circle cx="1342.9" cy="1044.9" r="2.5"/>
<circle cx="1350.3" cy="1006.3" r="2.5"/>
<circle cx="1357.8" cy="956.8" r="2.5"/>
<circle cx="1365.2" cy="949.2" r="2.5"/>
<circle cx="1372.6" cy="964.9" r="2.5"/>
<circle cx="1380.1" cy="1055.1" r="2.5"/>
<circle cx="1387.5" cy="1122.9" r="2.5"/>
<circle cx="1394.9" cy="1068.3" r="2.5"/>
<circle cx="1402.4" cy="1062.7" r="2.5"/>
<circle cx="1409.8" cy="1061.9" r="2.5"/>
<circle cx="1417.2" cy="1045.8" r="2.5"/>
<circle cx="1424.7" cy="1055.4" r="2.5"/>
<circle cx="1432.1" cy="936.4" r="2.5"/>
<circle cx="1439.5" cy="928.8" r="2.5"/>
<circle cx="1447" cy="942.9" r="2.5"/>
<circle cx="1454.4" cy="988.1" r="2.5"/>
<circle cx="1461.8" cy="986.8" r="2.5"/>
<circle cx="1469.3" cy="956.8" r="2.5"/>
<circle cx="1476.7" cy="957.6" r="2.5"/>
<circle cx="1484.1" cy="958" r="2.5"/>
<circle cx="1491.6" cy="957.6" r="2.5"/>
<circle cx="1499" cy="958" r="2.5"/>
<circle cx="1506.4" cy="959.3" r="2.5"/>
<circle cx="1513.9" cy="959.3" r="2.5"/>
<circle cx="1521.3" cy="965.8" r="2.5"/>
<circle cx="1528.7" cy="995.3" r="2.5"/>
<circle cx="1536.2" cy="1157.8" r="2.5"/>
<circle cx="1543.6" cy="1137" r="2.5"/>
<circle cx="1551" cy="1103.2" r="2.5"/>
<circle cx="1558.5" cy="1064.5" r="2.5"/>
<circle cx="1565.9" cy="1015.7" r="2.5"/>
<circle cx="1573.3" cy="984.8" r="2.5"/>
<circle cx="1580.8" cy="961.8" r="2.5"/>
<circle cx="1588.2" cy="945.9" r="2.5"/>
<circle cx="1595.6" cy="946.5" r="2.5"/>
<circle cx="1603.1" cy="944.7" r="2.5"/>
<circle cx="1610.5" cy="943.1" r="2.5"/>
<circle cx="1617.9" cy="938" r="2.5"/>
<circle cx="1625.4" cy="929.8" r="2.5"/>
<circle cx="1632.8" cy="925.3" r="2.5"/>
<circle cx="1640.2" cy="926.1" r="2.5"/>
<circle cx="1647.7" cy="927.3" r="2.5"/>
<circle cx="1655.1" cy="929" r="2.5"/>
<circle cx="1662.5" cy="932" r="2.5"/>
<circle cx="1670" cy="934.9" r="2.5"/>
<circle cx="1677.4" cy="939.7" r="2.5"/>
<circle cx="1684.8" cy="945.4" r="2.5"/>
<circle cx="1692.3" cy="949.8" r="2.5"/>
<circle cx="1699.7" cy="951" r="2.5"/>
<circle cx="1707.1" cy="950.5" r="2.5"/>
<circle cx="1714.6" cy="951.9" r="2.5"/>
<circle cx="1722" cy="953.2" r="2.5"/>
<circle cx="1729.4" cy="952.7" r="2.5"/>
<circle cx="1736.9" cy="951.9" r="2.5"/>
<circle cx="1744.3" cy="951.5" r="2.5"/>
<circle cx="1751.7" cy="951" r="2.5"/>
</g>
</g>
<g id="seglabels-b" font-size="36.5" text-anchor="middle" fill="#FF0000">
<text x="240.7" y="1229.3">3</text>
<text x="384.8" y="1229.7">4</text>
<text x="578" y="1234">5</text>
<text x="747.3" y="1234.7">6</text>
<text x="908.6" y="1234.4">8</text>
<text x="1058.5" y="1234.7">15</text>
<text x="1236.7" y="1232.7">19</text>
<text x="1420.2" y="1238.1">33</text>
<text x="1615.8" y="1237">43</text>
</g>
<g id="legend-b" font-size="38">
<line x1="498.2" y1="797" x2="530.6" y2="797" stroke="#08E408" stroke-width="2.4"/><circle cx="514.4" cy="797" r="2.5" fill="#fff" stroke="#08E408" stroke-width="2.0"/>
<line x1="498.2" y1="842.7" x2="530.6" y2="842.7" stroke="#7A0CFF" stroke-width="2.4"/><circle cx="514.4" cy="842.7" r="2.5" fill="#fff" stroke="#7A0CFF" stroke-width="2.0"/>
<text x="537" y="802">real value</text>
<text x="535.2" y="849">Libsvm regression</text>
</g>
</svg></body></html>
